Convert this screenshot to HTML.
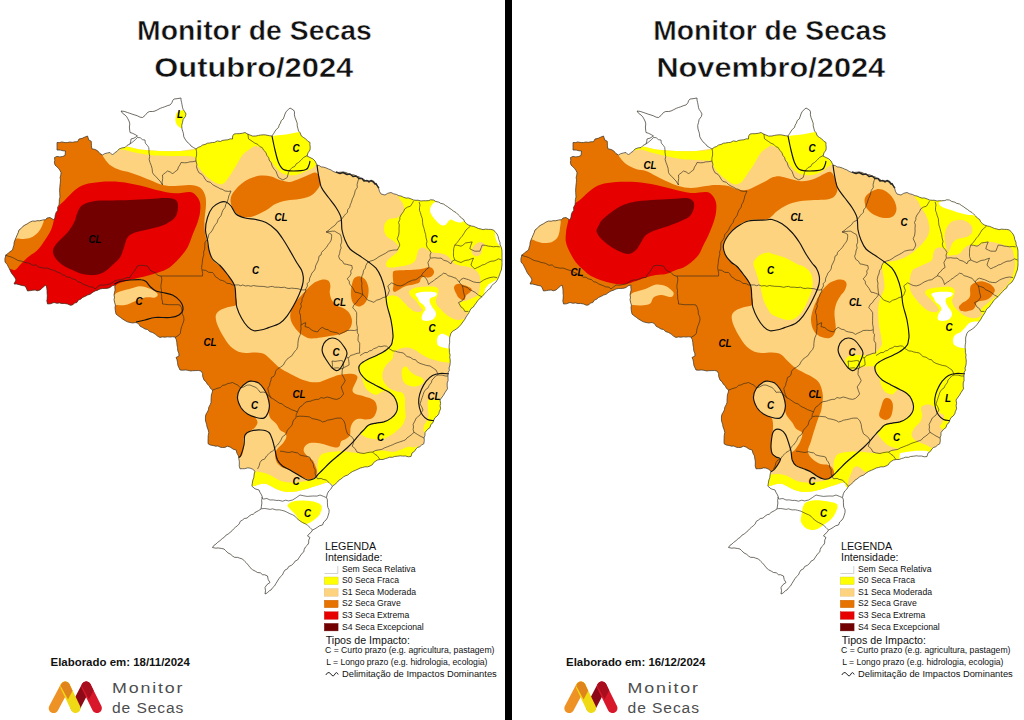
<!DOCTYPE html>
<html><head><meta charset="utf-8"><title>Monitor de Secas</title>
<style>
html,body{margin:0;padding:0;background:#fff;}
body{width:1024px;height:720px;overflow:hidden;font-family:"Liberation Sans",sans-serif;}
svg{display:block;}
text{font-family:"Liberation Sans",sans-serif;}
.ti{font-weight:bold;font-size:27.6px;fill:#111;text-anchor:middle;stroke:#fff;stroke-width:0.45px;}
.lb{font-weight:bold;font-style:italic;font-size:11.3px;fill:#000;text-anchor:middle;}
.lg{font-size:10.6px;fill:#111;}
.ls{font-size:8.65px;fill:#111;}
.el{font-weight:bold;font-size:11.2px;fill:#111;}
.lo{font-size:15.5px;fill:#4d4d4d;}
</style></head><body>
<svg width="1024" height="720" viewBox="0 0 1024 720">
<defs>
<path id="bzo" d="M5.0,262.0 L4.9,258.5 L6.0,255.0 L8.5,253.0 L9.9,251.8 L12.5,250.0 L13.2,247.2 L13.9,245.2 L14.1,242.6 L15.0,240.0 L16.1,237.4 L17.3,234.7 L18.3,232.3 L19.0,230.0 L21.1,228.5 L23.0,226.3 L25.0,225.0 L27.4,223.8 L29.8,222.2 L32.5,221.0 L35.2,221.2 L37.1,220.7 L39.5,220.8 L42.5,220.0 L45.6,219.7 L47.0,218.0 L50.0,217.5 L54.0,220.0 L54.9,217.6 L55.3,214.7 L56.1,212.4 L57.8,210.3 L57.6,207.3 L59.0,205.0 L59.3,201.9 L59.3,199.7 L60.0,197.0 L59.8,194.7 L59.7,192.3 L59.6,190.3 L59.8,187.4 L60.0,185.0 L60.3,182.8 L60.5,179.7 L60.1,177.6 L60.8,175.0 L61.0,172.5 L60.0,170.5 L58.5,168.3 L56.8,166.7 L55.0,165.0 L54.3,162.0 L54.8,160.6 L54.5,157.5 L57.0,156.4 L59.9,156.9 L62.5,156.5 L65.0,155.5 L65.5,151.0 L63.1,150.8 L60.3,150.1 L57.0,150.0 L57.0,147.7 L57.0,145.1 L57.0,142.5 L59.7,142.6 L61.6,141.9 L65.2,142.6 L67.8,142.5 L69.5,142.0 L72.5,142.3 L75.2,141.7 L77.5,141.8 L79.0,139.0 L82.2,138.3 L84.3,137.3 L87.5,136.0 L88.8,140.0 L91.2,141.2 L91.4,143.2 L91.4,145.8 L91.9,148.8 L95.0,149.4 L97.6,150.8 L100.0,153.6 L102.5,155.0 L104.6,153.7 L107.7,152.9 L110.0,152.5 L112.5,155.0 L114.6,152.8 L117.1,151.3 L119.0,149.0 L122.0,147.9 L125.0,147.5 L127.1,145.4 L130.0,144.0 L130.8,141.1 L131.0,139.0 L134.1,138.1 L137.5,136.0 L135.4,134.7 L132.3,133.2 L130.0,132.5 L129.7,130.2 L129.4,127.0 L129.8,123.9 L129.0,121.0 L127.8,118.7 L126.8,116.9 L125.0,115.0 L122.7,113.4 L121.0,111.0 L124.2,111.4 L127.5,112.5 L129.5,113.2 L132.9,114.4 L135.0,115.0 L137.1,115.7 L140.2,117.2 L142.5,117.5 L145.0,115.5 L147.5,112.5 L149.7,111.5 L152.7,111.5 L155.0,111.0 L157.1,110.0 L160.3,108.3 L162.5,107.5 L164.4,106.9 L167.9,105.5 L170.0,105.0 L171.9,102.8 L172.6,100.7 L174.0,99.0 L177.0,98.7 L181.0,98.0 L181.0,100.1 L181.6,102.5 L182.1,105.1 L182.5,107.5 L183.2,109.5 L184.7,111.6 L186.0,114.0 L185.3,116.6 L183.1,119.5 L182.5,122.5 L181.7,125.4 L182.0,129.0 L182.9,131.8 L183.4,133.4 L183.8,136.8 L185.0,139.0 L187.0,141.9 L189.5,143.9 L191.0,146.0 L193.6,147.6 L196.0,149.0 L198.3,147.3 L200.6,146.5 L202.5,145.0 L205.0,144.5 L207.5,143.2 L209.5,143.0 L212.5,142.5 L214.5,142.4 L217.3,140.9 L220.6,141.5 L222.1,140.5 L225.0,140.0 L227.9,139.8 L230.2,138.8 L232.5,139.0 L232.7,135.9 L234.0,134.0 L236.4,133.7 L239.1,133.7 L242.7,133.2 L245.0,132.5 L247.8,134.2 L250.0,135.0 L252.6,136.1 L256.0,136.0 L258.4,135.4 L260.9,135.0 L263.9,134.8 L266.0,135.0 L269.3,135.7 L272.0,136.0 L273.6,133.6 L275.0,131.3 L276.3,129.4 L278.5,127.5 L279.2,125.0 L280.4,123.2 L281.3,120.5 L283.3,118.9 L284.3,116.2 L285.0,114.0 L286.2,111.5 L288.2,109.6 L290.0,108.0 L293.5,110.0 L294.5,111.9 L294.4,114.8 L295.1,117.8 L296.0,120.0 L297.2,123.3 L297.2,125.7 L297.8,128.1 L298.5,131.0 L300.0,132.6 L301.3,135.9 L303.5,137.5 L305.5,138.7 L307.9,141.3 L310.0,142.5 L309.9,144.6 L310.2,147.2 L310.0,150.0 L308.0,152.8 L307.0,156.0 L309.1,157.1 L312.9,158.9 L315.0,161.0 L317.0,165.0 L319.5,165.7 L321.1,166.9 L323.5,167.1 L326.5,168.1 L328.5,169.0 L330.9,169.9 L333.1,171.4 L336.0,172.5 L338.6,172.4 L341.2,172.1 L343.5,172.0 L346.5,172.6 L348.3,173.7 L351.3,174.6 L353.9,174.8 L356.0,176.0 L359.1,176.8 L360.6,178.0 L364.0,179.4 L366.0,181.0 L368.4,180.6 L370.8,181.2 L373.5,181.0 L374.7,183.4 L376.4,184.8 L378.5,187.5 L379.4,191.2 L381.0,194.0 L385.0,195.0 L387.7,193.3 L391.0,192.5 L393.4,193.7 L396.6,194.5 L398.9,195.7 L401.0,196.0 L403.4,197.2 L406.1,198.1 L408.2,197.9 L411.3,199.0 L413.5,200.0 L416.0,200.3 L418.0,200.2 L421.0,201.0 L423.8,200.7 L425.6,200.8 L428.8,200.6 L430.6,199.8 L433.5,200.0 L435.6,201.4 L438.9,202.2 L440.5,203.3 L443.5,204.0 L445.4,205.4 L447.7,206.8 L450.0,208.6 L451.4,209.4 L453.6,211.2 L456.0,212.5 L458.3,214.8 L459.5,215.9 L461.5,218.2 L463.7,219.5 L464.6,221.8 L466.5,223.7 L468.5,225.0 L471.4,226.0 L473.7,226.4 L475.8,227.3 L478.5,228.5 L481.0,229.0 L483.0,229.7 L485.6,229.1 L488.4,229.4 L490.8,229.4 L493.5,230.0 L495.7,232.5 L497.0,234.0 L498.2,236.6 L498.8,239.6 L500.0,242.5 L500.1,244.8 L501.2,247.2 L501.9,250.0 L502.0,252.5 L502.0,255.0 L502.0,257.5 L502.0,260.0 L502.0,262.5 L502.0,265.0 L501.6,267.9 L501.3,270.0 L500.4,272.2 L499.7,274.3 L498.5,277.4 L497.5,279.5 L495.9,282.1 L493.5,284.0 L491.4,285.9 L490.5,288.2 L488.5,289.5 L486.6,291.6 L484.3,294.0 L482.2,296.4 L480.2,298.1 L477.6,300.8 L476.0,303.2 L474.5,305.1 L473.4,307.0 L471.0,308.6 L469.8,310.8 L468.9,312.7 L467.4,315.0 L466.0,317.0 L464.9,319.2 L462.9,321.9 L461.0,324.5 L459.1,326.7 L456.9,328.6 L454.8,330.0 L452.6,331.2 L451.0,333.2 L449.8,337.0 L449.6,339.2 L449.7,342.4 L449.3,344.3 L449.1,347.2 L449.4,349.9 L449.4,352.5 L450.1,355.1 L449.7,357.2 L450.2,359.7 L450.2,362.5 L450.0,365.0 L449.0,368.0 L449.4,370.3 L448.2,372.3 L448.0,375.0 L448.0,378.0 L448.1,380.5 L447.2,382.9 L447.2,386.1 L447.5,388.8 L445.0,392.5 L443.5,395.2 L441.4,398.0 L440.0,400.0 L440.6,403.3 L440.1,405.7 L440.6,408.8 L439.3,411.6 L438.8,413.8 L437.1,416.1 L435.0,417.6 L433.8,420.0 L432.8,422.9 L430.9,424.4 L430.0,427.5 L427.4,429.5 L425.0,432.5 L425.0,435.3 L424.1,437.8 L424.3,440.4 L423.8,443.8 L421.5,445.1 L419.8,446.7 L417.5,447.5 L415.9,449.0 L414.3,451.5 L412.0,453.0 L411.0,456.5 L408.4,456.8 L405.6,456.0 L402.6,456.1 L400.6,455.8 L397.5,456.2 L394.4,456.5 L392.7,457.3 L389.5,457.2 L387.5,458.0 L385.4,458.6 L383.0,459.5 L380.3,459.5 L377.5,460.0 L375.3,461.4 L373.5,462.7 L372.4,464.7 L370.0,466.0 L367.4,466.9 L364.9,466.8 L362.5,467.5 L360.2,468.0 L357.9,469.2 L355.4,470.3 L352.5,471.5 L349.9,473.2 L347.8,475.0 L345.0,476.0 L343.4,477.0 L340.9,479.1 L338.9,480.2 L337.5,482.0 L334.7,484.6 L332.5,486.0 L330.9,489.0 L328.8,491.0 L327.3,493.8 L326.5,497.5 L327.4,499.8 L327.4,502.8 L327.5,505.0 L327.8,507.3 L329.1,509.8 L329.0,512.5 L328.2,515.3 L327.4,517.8 L326.0,520.0 L323.7,522.0 L322.5,525.0 L319.5,525.8 L317.4,527.3 L314.9,528.8 L312.5,530.0 L311.1,532.3 L308.9,534.1 L307.5,536.0 L310.0,537.5 L308.7,540.1 L308.7,543.0 L307.5,545.0 L305.5,546.9 L304.2,549.4 L303.8,551.9 L302.2,553.2 L300.0,556.2 L298.8,558.1 L297.5,560.0 L295.1,561.1 L293.7,563.3 L291.6,565.2 L288.6,566.6 L287.5,568.8 L285.0,570.0 L283.6,572.2 L282.5,574.8 L280.2,577.0 L278.9,578.7 L277.5,581.0 L275.8,583.7 L274.6,585.9 L272.7,587.6 L271.0,590.0 L269.4,590.7 L267.3,592.9 L265.0,594.0 L265.5,590.7 L265.0,587.5 L266.9,584.7 L270.0,582.5 L268.2,579.6 L267.5,576.0 L264.4,574.7 L262.7,574.8 L260.3,572.8 L257.5,572.5 L255.5,571.3 L252.5,569.7 L250.0,567.5 L248.4,565.2 L246.2,562.7 L244.8,561.4 L242.5,559.0 L239.5,558.1 L237.7,557.4 L234.5,557.3 L232.5,556.0 L230.8,554.4 L228.0,552.9 L225.7,550.7 L224.0,549.0 L221.7,548.5 L218.0,547.9 L215.9,548.2 L212.5,547.5 L213.8,545.5 L216.0,544.0 L217.5,542.5 L220.1,540.6 L222.2,538.6 L224.4,537.2 L225.8,535.3 L228.2,534.0 L230.0,532.5 L232.1,530.7 L233.7,528.8 L235.6,527.1 L237.7,525.5 L239.2,523.9 L240.3,521.3 L242.5,520.0 L244.3,518.5 L247.0,518.1 L249.0,516.2 L251.3,514.6 L253.2,514.3 L255.0,512.5 L258.4,510.7 L261.0,509.0 L261.4,506.3 L261.9,503.0 L261.6,500.3 L262.5,497.5 L261.5,494.9 L259.9,492.2 L259.0,490.0 L255.0,488.8 L251.9,486.2 L252.3,483.3 L252.9,480.0 L253.8,477.5 L254.2,474.0 L255.0,471.2 L252.6,469.2 L250.0,468.1 L247.6,467.9 L244.6,468.7 L242.7,468.7 L240.0,468.8 L239.2,465.9 L239.3,464.0 L239.3,461.1 L238.8,458.8 L238.5,456.0 L236.9,453.1 L236.2,450.0 L233.4,449.3 L230.3,447.2 L227.5,446.2 L224.9,447.4 L222.5,447.5 L220.5,447.3 L217.9,446.0 L215.6,446.2 L213.1,445.5 L210.2,445.0 L208.1,443.8 L208.0,441.2 L208.1,438.4 L208.2,435.4 L208.8,432.5 L208.2,430.0 L207.0,426.8 L206.6,424.3 L205.6,421.2 L205.4,418.8 L205.5,416.1 L206.2,413.8 L207.4,412.0 L208.5,409.5 L208.7,407.5 L210.3,404.4 L211.0,402.5 L211.0,400.4 L211.2,397.3 L211.4,394.8 L212.4,391.9 L212.5,390.0 L210.5,388.4 L209.2,385.8 L207.4,384.3 L206.1,381.9 L204.0,380.0 L202.7,376.5 L202.6,373.5 L201.0,371.0 L198.6,370.5 L196.0,370.6 L192.6,370.7 L190.9,371.0 L187.9,370.3 L185.5,370.0 L182.2,370.2 L180.0,370.0 L179.1,368.0 L177.9,365.4 L177.5,362.3 L177.0,359.7 L176.0,357.5 L179.0,356.0 L178.8,353.1 L177.8,350.9 L177.5,347.5 L177.0,345.2 L176.8,342.1 L176.2,339.4 L175.0,337.0 L172.5,336.8 L169.6,337.1 L167.8,336.8 L164.9,337.2 L162.2,336.9 L160.0,337.5 L157.5,336.1 L155.2,334.1 L152.5,332.5 L149.6,331.6 L147.7,329.6 L145.0,329.0 L142.7,327.6 L140.2,326.3 L138.4,323.6 L136.0,322.5 L132.7,323.0 L130.0,322.5 L127.3,321.8 L125.3,320.7 L122.5,319.0 L120.3,317.3 L117.8,315.6 L116.0,314.0 L115.3,310.4 L115.0,307.5 L115.4,305.2 L114.6,302.3 L114.0,299.6 L114.5,297.4 L114.0,295.0 L114.4,292.9 L115.1,290.1 L114.8,287.0 L115.0,285.0 L112.1,285.8 L110.0,287.5 L107.9,288.2 L104.7,288.5 L102.8,288.5 L100.0,289.0 L97.0,290.4 L95.0,291.0 L92.1,292.7 L90.5,294.1 L87.5,295.1 L85.3,296.3 L82.5,297.5 L80.5,299.3 L78.4,300.1 L76.8,302.6 L74.5,303.0 L72.5,305.0 L70.2,305.2 L67.8,304.1 L64.4,303.4 L62.0,303.6 L59.5,302.9 L57.0,303.3 L54.0,302.5 L50.4,303.8 L47.5,304.0 L46.8,300.7 L47.1,299.1 L47.3,295.7 L47.0,292.8 L47.0,290.7 L46.8,288.1 L46.0,285.0 L44.4,286.1 L41.7,288.5 L40.0,290.0 L37.2,290.8 L35.2,290.0 L32.7,290.2 L30.5,290.6 L27.5,291.0 L26.3,288.0 L25.0,286.0 L22.2,285.5 L20.0,284.9 L16.7,284.1 L14.0,284.0 L16.0,280.0 L15.0,277.8 L13.0,275.1 L11.2,272.7 L10.0,270.0 L8.7,267.5 L7.2,264.5Z"/>
<clipPath id="bz"><use href="#bzo"/></clipPath>
<g id="logo">
<line x1="75.4" y1="707.2" x2="86.2" y2="686.4" stroke="#8c0a18" stroke-width="9.8" stroke-linecap="round"/>
<line x1="53.6" y1="708.2" x2="65.2" y2="686.4" stroke="#ee9226" stroke-width="9.8" stroke-linecap="round"/>
<line x1="65.2" y1="686.4" x2="75.6" y2="708.2" stroke="#f0da16" stroke-width="9.8" stroke-linecap="round"/>
<path d="M65.2,681.5 a4.9,4.9 0 0 1 4.4,2.8 l3.0,6.4 l-4.6,8.8 l-7.2,-13.3 a4.9,4.9 0 0 1 4.4,-4.7z" fill="#e0851c"/>
<line x1="86.2" y1="686.4" x2="97" y2="708.2" stroke="#d8182a" stroke-width="9.8" stroke-linecap="round"/>
<path d="M86.2,681.5 a4.9,4.9 0 0 1 4.4,2.8 l3.0,6.2 l-4.6,8.8 l-7.2,-13.1 a4.9,4.9 0 0 1 4.4,-4.7z" fill="#a80e1e"/>
<text x="112" y="693.1" class="lo" textLength="72.3" lengthAdjust="spacingAndGlyphs" style="letter-spacing:1.6px">Monitor</text>
<text x="112" y="713.2" class="lo" textLength="72.3" lengthAdjust="spacingAndGlyphs" style="letter-spacing:0.9px">de Secas</text>
</g>
<g id="legend">
<text x="325" y="549.5" class="lg" textLength="51.2" lengthAdjust="spacingAndGlyphs">LEGENDA</text>
<text x="325" y="560.6" class="lg" textLength="57.5" lengthAdjust="spacingAndGlyphs">Intensidade:</text>
<path d="M324.5,573.5 H337.8 V566" fill="none" stroke="#bdbdbd" stroke-width="0.7"/>
<rect x="324.3" y="577" width="13.8" height="7.5" fill="#ffff00" stroke="#c9c93a" stroke-width="0.4"/>
<rect x="324.3" y="588.7" width="13.8" height="7.5" fill="#fdd37f" stroke="#d9b777" stroke-width="0.4"/>
<rect x="324.3" y="600.2" width="13.8" height="7.5" fill="#e67300" stroke="#c56708" stroke-width="0.4"/>
<rect x="324.3" y="611.8" width="13.8" height="7.5" fill="#e60000" stroke="#c41010" stroke-width="0.4"/>
<rect x="324.3" y="623.4" width="13.8" height="7.5" fill="#730000" stroke="#6a0a0a" stroke-width="0.4"/>
<text x="342" y="572" class="ls" textLength="73.5" lengthAdjust="spacingAndGlyphs">Sem Seca Relativa</text>
<text x="342" y="583.4" class="ls" textLength="57" lengthAdjust="spacingAndGlyphs">S0 Seca Fraca</text>
<text x="342" y="595" class="ls" textLength="74" lengthAdjust="spacingAndGlyphs">S1 Seca Moderada</text>
<text x="342" y="606.4" class="ls" textLength="58.7" lengthAdjust="spacingAndGlyphs">S2 Seca Grave</text>
<text x="342" y="618.1" class="ls" textLength="67.3" lengthAdjust="spacingAndGlyphs">S3 Seca Extrema</text>
<text x="342" y="630" class="ls" textLength="81.8" lengthAdjust="spacingAndGlyphs">S4 Seca Excepcional</text>
<text x="325.7" y="643.8" class="lg" textLength="84.3" lengthAdjust="spacingAndGlyphs">Tipos de Impacto:</text>
<text x="325" y="653.3" class="ls" style="font-size:8.4px" textLength="169.5" lengthAdjust="spacingAndGlyphs">C = Curto prazo (e.g. agricultura, pastagem)</text>
<text x="326.2" y="664.5" class="ls" style="font-size:8.4px" textLength="161.3" lengthAdjust="spacingAndGlyphs">L = Longo prazo (e.g. hidrologia, ecologia)</text>
<path d="M325.8,675 Q327.5,672 329,672.5 Q331,673.5 332,675.5 Q333.5,677 335,674 Q336.5,671 338.2,674.5" fill="none" stroke="#111" stroke-width="0.9"/>
<text x="342" y="677" class="ls" style="font-size:9.2px" textLength="154.8" lengthAdjust="spacingAndGlyphs">Delimitação de Impactos Dominantes</text>
</g>
</defs>
<rect width="1024" height="720" fill="#fff"/>
<g transform="translate(0,0)">
<g clip-path="url(#bz)">
<rect x="0" y="90" width="512" height="520" fill="#fdd37f"/>
<path d="M100.0,90.0 L200.0,90.0 L200.0,146.0 L196.0,148.5 L180.0,151.0 L160.0,151.0 L140.0,149.5 L125.0,146.0 L116.0,152.0Z" fill="#ffffff"/>
<path d="M245.0,486.5 C253.8,484.2 250.2,486.6 252.5,486.2 C254.8,485.9 256.7,484.8 258.8,484.4 C260.8,484.0 262.9,483.4 265.0,483.8 C267.1,484.1 269.0,485.2 271.2,486.2 C273.5,487.3 276.0,489.1 278.8,490.0 C281.5,490.9 284.4,491.7 287.5,491.9 C290.6,492.1 294.2,491.8 297.5,491.2 C300.8,490.7 304.2,489.7 307.5,488.8 C310.8,487.8 314.1,486.6 317.5,485.6 C320.9,484.6 323.4,483.4 328.0,482.5 C332.6,481.6 342.2,458.8 345.0,480.0 C347.8,501.2 369.2,588.3 345.0,610.0 C320.8,631.7 224.2,628.3 200.0,610.0 C175.8,591.7 192.5,520.6 200.0,500.0 C207.5,479.4 236.2,488.8 245.0,486.5Z" fill="#ffffff"/>
<path d="M116.0,151.0 C116.4,150.5 121.0,146.8 125.0,146.5 C129.0,146.2 134.2,148.8 140.0,149.5 C145.8,150.2 153.3,150.8 160.0,151.0 C166.7,151.2 174.0,151.4 180.0,151.0 C186.0,150.6 192.8,151.2 196.0,148.5 C199.2,145.8 193.3,139.8 199.0,135.0 C204.7,130.2 208.2,122.5 230.0,120.0 C251.8,117.5 313.3,113.3 330.0,120.0 C346.7,126.7 332.0,152.8 330.0,160.0 C328.0,167.2 320.8,161.8 318.0,163.0 C315.2,164.2 315.5,166.2 313.5,167.5 C311.5,168.8 308.9,169.8 306.0,171.0 C303.1,172.2 299.8,174.5 296.0,175.0 C292.2,175.5 286.8,175.2 283.5,174.0 C280.2,172.8 278.5,170.2 276.0,167.5 C273.5,164.8 270.6,160.4 268.5,157.5 C266.4,154.6 265.6,151.9 263.5,150.0 C261.4,148.1 258.2,146.2 256.0,146.0 C253.8,145.8 252.2,147.5 250.0,149.0 C247.8,150.5 245.0,151.9 242.5,155.0 C240.0,158.1 237.5,163.5 235.0,167.5 C232.5,171.5 229.6,176.2 227.5,179.0 C225.4,181.8 224.6,183.4 222.5,184.0 C220.4,184.6 217.9,184.0 215.0,182.5 C212.1,181.0 207.9,177.9 205.0,175.0 C202.1,172.1 199.2,167.9 197.5,165.0 C195.8,162.1 197.1,159.0 195.0,157.5 C192.9,156.0 189.2,156.2 185.0,156.0 C180.8,155.8 175.8,156.2 170.0,156.0 C164.2,155.8 155.8,155.6 150.0,155.0 C144.2,154.4 139.6,153.4 135.0,152.5 C130.4,151.6 125.7,149.8 122.5,149.5 C119.3,149.2 115.6,151.5 116.0,151.0Z" fill="#ffff00"/>
<path d="M178.0,112.0 C179.3,111.2 182.0,109.7 184.0,110.0 C186.0,110.3 189.8,112.3 190.0,114.0 C190.2,115.7 186.2,117.7 185.0,120.0 C183.8,122.3 183.7,127.0 182.5,128.0 C181.3,129.0 179.2,127.2 178.0,126.0 C176.8,124.8 175.8,122.8 175.5,121.0 C175.2,119.2 175.6,116.5 176.0,115.0 C176.4,113.5 176.7,112.8 178.0,112.0Z" fill="#ffff00"/>
<path d="M400.4,194.0 C395.9,196.3 402.4,201.3 403.0,203.8 C403.6,206.2 404.3,206.9 404.0,208.8 C403.7,210.6 402.3,213.5 401.0,215.0 C399.7,216.5 398.1,217.3 396.0,218.0 C393.9,218.7 390.4,218.4 388.5,219.4 C386.6,220.4 385.5,222.0 384.8,223.8 C384.0,225.5 383.7,227.9 384.0,230.0 C384.3,232.1 385.2,234.6 386.6,236.2 C388.0,237.9 390.6,238.8 392.2,240.0 C393.9,241.2 395.5,242.5 396.6,243.8 C397.7,245.0 398.8,246.2 399.0,247.5 C399.2,248.8 399.0,249.8 397.9,251.2 C396.8,252.7 393.9,254.8 392.2,256.2 C390.6,257.7 388.9,258.8 387.9,260.0 C386.9,261.2 386.1,262.6 386.0,263.8 C385.9,264.9 386.2,266.3 387.2,266.9 C388.3,267.5 390.0,267.6 392.2,267.5 C394.5,267.4 398.1,266.8 401.0,266.2 C403.9,265.7 407.5,265.2 409.8,264.4 C412.0,263.6 413.6,262.6 414.8,261.2 C415.9,259.9 416.0,258.1 416.6,256.2 C417.2,254.4 417.6,251.5 418.5,250.0 C419.4,248.5 421.0,247.7 422.2,247.5 C423.5,247.3 424.5,248.0 426.0,248.8 C427.5,249.5 428.9,251.2 431.0,251.9 C433.1,252.6 436.0,252.6 438.5,253.1 C441.0,253.6 443.9,253.9 446.0,255.0 C448.1,256.1 449.5,257.9 451.0,259.4 C452.5,260.9 453.1,262.7 454.8,263.8 C456.4,264.8 458.7,265.2 461.0,265.8 C463.3,266.3 466.2,266.4 468.5,267.0 C470.8,267.6 473.0,268.2 474.8,269.5 C476.5,270.8 478.2,272.6 479.1,274.5 C480.0,276.4 480.3,278.7 480.4,280.8 C480.5,282.8 480.0,285.1 479.8,287.0 C479.5,288.9 479.5,290.5 479.1,292.0 C478.7,293.5 478.4,294.7 477.2,295.8 C476.1,296.8 474.1,297.4 472.2,298.2 C470.4,299.1 467.9,300.1 466.0,300.8 C464.1,301.4 462.0,301.4 461.0,302.0 C460.0,302.6 459.5,303.2 459.8,304.5 C460.0,305.8 461.2,308.4 462.2,309.5 C463.3,310.6 463.9,311.0 466.0,311.4 C468.1,311.8 466.8,318.9 475.0,312.0 C483.2,305.1 508.3,286.2 515.0,270.0 C521.7,253.8 522.5,227.5 515.0,215.0 C507.5,202.5 484.2,199.2 470.0,195.0 C455.8,190.8 441.6,190.2 430.0,190.0 C418.4,189.8 404.9,191.7 400.4,194.0Z" fill="#ffff00"/>
<path d="M385.4,298.2 C385.9,296.8 388.2,296.4 389.8,296.0 C391.3,295.6 393.1,295.4 394.8,295.8 C396.4,296.1 398.1,297.0 399.8,298.2 C401.4,299.5 403.1,301.6 404.8,303.2 C406.4,304.9 408.1,306.9 409.8,308.2 C411.4,309.6 413.1,310.8 414.8,311.4 C416.4,312.0 418.4,312.2 419.8,312.0 C421.1,311.8 422.6,310.7 422.9,310.1 C423.2,309.5 422.3,309.2 421.6,308.2 C420.9,307.3 419.4,305.8 418.5,304.5 C417.6,303.2 417.2,302.1 416.0,300.8 C414.8,299.4 412.1,297.9 411.0,296.4 C409.9,294.9 408.9,293.2 409.1,292.0 C409.3,290.8 410.5,289.7 412.2,288.9 C414.0,288.1 416.8,287.4 419.8,287.0 C422.7,286.6 427.0,286.4 429.8,286.4 C432.5,286.4 434.5,286.4 436.0,287.0 C437.5,287.6 438.2,288.9 438.5,290.1 C438.8,291.4 438.3,292.9 437.9,294.5 C437.5,296.1 436.2,297.8 436.0,299.5 C435.8,301.2 435.8,302.8 436.6,304.5 C437.4,306.2 439.4,307.8 441.0,309.5 C442.6,311.2 444.1,313.0 446.0,314.5 C447.9,316.0 450.2,317.3 452.2,318.2 C454.3,319.2 455.5,319.8 458.5,320.1 C461.5,320.4 468.9,315.9 470.0,320.0 C471.1,324.1 466.7,337.8 465.0,345.0 C463.3,352.2 462.9,360.1 460.0,363.0 C457.1,365.9 451.0,362.8 447.5,362.5 C444.0,362.2 441.7,361.9 438.8,361.2 C435.8,360.6 432.7,359.8 430.0,358.8 C427.3,357.7 425.0,356.5 422.5,355.0 C420.0,353.5 417.5,351.2 415.0,350.0 C412.5,348.8 410.0,347.7 407.5,347.5 C405.0,347.3 402.3,347.9 400.0,348.8 C397.7,349.6 395.0,350.8 393.8,352.5 C392.5,354.2 393.8,356.7 392.5,358.8 C391.2,360.8 387.8,362.9 386.2,365.0 C384.7,367.1 383.6,369.2 383.0,371.2 C382.4,373.3 382.2,375.4 382.5,377.5 C382.8,379.6 383.8,381.9 385.0,383.8 C386.2,385.6 388.1,387.5 390.0,388.8 C391.9,390.0 394.2,390.5 396.2,391.2 C398.3,392.0 401.0,391.8 402.5,393.0 C404.0,394.2 404.6,396.5 405.0,398.8 C405.4,401.0 404.9,403.5 405.0,406.2 C405.1,409.0 405.5,413.1 405.6,415.0 C405.7,416.9 406.1,415.8 405.6,417.5 C405.1,419.2 404.1,422.7 402.5,425.0 C400.9,427.3 398.5,429.4 396.2,431.2 C394.0,433.1 391.2,434.9 388.8,436.2 C386.2,437.6 384.0,439.0 381.2,439.4 C378.5,439.8 375.0,439.1 372.5,438.8 C370.0,438.4 367.9,438.1 366.2,437.5 C364.6,436.9 363.5,435.6 362.5,435.0 C361.5,434.4 359.6,435.0 360.0,433.8 C360.4,432.5 363.3,429.1 365.0,427.5 C366.7,425.9 367.5,425.2 370.0,424.4 C372.5,423.6 376.9,423.3 380.0,422.5 C383.1,421.7 386.2,420.6 388.8,419.4 C391.2,418.1 393.6,416.7 395.0,415.0 C396.4,413.3 396.6,410.5 397.0,409.0 C397.4,407.5 397.7,407.9 397.5,406.2 C397.3,404.6 396.6,401.5 395.6,399.4 C394.6,397.3 393.2,395.1 391.2,393.8 C389.3,392.4 386.0,390.9 383.8,391.0 C381.5,391.1 379.4,393.9 377.5,394.4 C375.6,394.9 374.4,394.7 372.5,393.8 C370.6,392.8 367.8,390.8 366.2,388.8 C364.7,386.7 363.9,383.8 363.0,381.2 C362.1,378.8 361.3,375.9 360.6,373.8 C359.9,371.6 358.8,369.8 358.8,368.1 C358.8,366.4 359.1,365.2 360.6,363.8 C362.1,362.3 364.7,360.9 367.5,359.4 C370.3,357.9 374.4,356.6 377.5,355.0 C380.6,353.4 384.0,351.7 386.2,350.0 C388.5,348.3 390.1,347.5 391.2,345.0 C392.4,342.5 393.0,339.2 393.0,335.0 C393.0,330.8 392.0,325.0 391.0,320.0 C390.0,315.0 387.9,308.6 387.0,305.0 C386.1,301.4 384.9,299.8 385.4,298.2Z" fill="#ffff00"/>
<path d="M401.9,370.0 C402.2,368.4 402.9,367.4 403.8,366.9 C404.6,366.4 405.9,366.2 406.9,366.9 C407.9,367.6 408.6,369.9 410.0,371.2 C411.4,372.6 413.1,374.0 415.0,375.0 C416.9,376.0 419.8,376.6 421.2,377.5 C422.7,378.4 423.8,379.5 423.8,380.6 C423.8,381.8 422.7,383.4 421.2,384.4 C419.8,385.4 417.1,386.3 415.0,386.5 C412.9,386.7 410.6,386.4 408.8,385.6 C406.9,384.8 404.9,383.5 403.8,381.9 C402.6,380.3 402.2,378.2 401.9,376.2 C401.6,374.3 401.6,371.6 401.9,370.0Z" fill="#ffff00"/>
<path d="M427.5,402.5 L428.8,399.0 L435.0,398.8 L441.0,399.5 L455.0,398.0 L445.0,425.0 L432.0,434.0 L424.0,433.0 L423.5,428.0 L424.5,424.5 L427.0,421.0 L428.8,415.0 L428.0,410.0Z" fill="#ffff00"/>
<path d="M252.5,486.2 C254.6,487.0 256.7,484.8 258.8,484.4 C260.8,484.0 262.9,483.4 265.0,483.8 C267.1,484.1 269.0,485.2 271.2,486.2 C273.5,487.3 276.0,489.1 278.8,490.0 C281.5,490.9 284.4,491.7 287.5,491.9 C290.6,492.1 294.2,491.8 297.5,491.2 C300.8,490.7 304.2,489.7 307.5,488.8 C310.8,487.8 314.1,486.6 317.5,485.6 C320.9,484.6 324.2,482.4 328.0,482.5 C331.8,482.6 331.3,487.2 340.0,486.0 C348.7,484.8 366.7,479.3 380.0,475.0 C393.3,470.7 413.7,464.7 420.0,460.0 C426.3,455.3 419.0,449.1 418.0,447.0 C417.0,444.9 415.5,447.5 413.8,447.5 C412.0,447.5 409.8,446.5 407.5,446.9 C405.2,447.3 402.5,449.2 400.0,450.0 C397.5,450.8 395.4,451.8 392.5,451.9 C389.6,452.0 385.8,450.7 382.5,450.6 C379.2,450.5 375.8,450.8 372.5,451.2 C369.2,451.7 365.8,452.9 362.5,453.1 C359.2,453.3 355.8,452.8 352.5,452.5 C349.2,452.2 346.0,451.4 342.5,451.2 C339.0,451.1 334.6,451.5 331.2,451.9 C327.9,452.3 324.6,452.6 322.5,453.8 C320.4,454.9 319.6,456.7 318.8,458.8 C317.9,460.8 317.6,463.3 317.5,466.2 C317.4,469.2 318.4,474.2 318.0,476.2 C317.6,478.3 317.2,477.9 315.0,478.8 C312.8,479.6 308.3,480.6 305.0,481.2 C301.7,481.9 298.3,482.4 295.0,482.5 C291.7,482.6 287.9,482.4 285.0,481.9 C282.1,481.4 280.0,480.5 277.5,479.4 C275.0,478.2 272.5,476.1 270.0,475.0 C267.5,473.9 265.0,473.1 262.5,472.5 C260.0,471.9 257.4,471.7 255.0,471.2 C252.6,470.8 249.5,468.5 248.0,470.0 C246.5,471.5 245.2,477.3 246.0,480.0 C246.8,482.7 250.4,485.5 252.5,486.2Z" fill="#ffff00"/>
<path d="M287.5,505.0 C288.3,503.7 291.2,501.7 295.0,501.0 C298.8,500.3 305.7,500.3 310.0,501.0 C314.3,501.7 319.3,502.8 321.0,505.0 C322.7,507.2 321.4,511.3 320.0,514.0 C318.6,516.7 315.0,519.3 312.5,521.0 C310.0,522.7 307.2,524.2 305.0,524.0 C302.8,523.8 300.7,521.7 299.0,520.0 C297.3,518.3 296.5,515.8 295.0,514.0 C293.5,512.2 291.2,510.5 290.0,509.0 C288.8,507.5 286.7,506.3 287.5,505.0Z" fill="#ffff00"/>
<path d="M472.2,248.8 C472.8,247.6 473.7,246.0 474.8,245.0 C475.8,244.0 477.2,242.9 478.5,242.5 C479.8,242.1 481.2,242.1 482.2,242.5 C483.3,242.9 484.8,244.0 484.8,245.0 C484.8,246.0 482.9,247.3 482.2,248.8 C481.6,250.2 481.8,252.5 481.0,253.8 C480.2,255.0 478.5,256.0 477.2,256.2 C476.0,256.5 474.4,255.7 473.5,255.0 C472.6,254.3 471.8,252.9 471.6,251.9 C471.4,250.9 471.7,249.9 472.2,248.8Z" fill="#fdd37f"/>
<path d="M431.0,206.2 C431.6,205.0 432.5,203.9 433.5,203.1 C434.5,202.3 435.3,202.3 437.2,201.5 C439.2,200.7 439.5,195.8 445.0,198.0 C450.5,200.2 466.9,211.1 470.0,215.0 C473.1,218.9 465.2,220.0 463.5,221.2 C461.8,222.5 461.2,222.5 459.8,222.5 C458.3,222.5 456.2,221.8 454.8,221.2 C453.3,220.7 452.0,219.4 451.0,219.4 C450.0,219.4 449.3,220.4 448.5,221.2 C447.7,222.1 446.9,223.7 446.0,224.4 C445.1,225.1 444.0,225.7 442.9,225.6 C441.8,225.5 440.4,224.7 439.1,223.8 C437.9,222.8 436.6,221.5 435.4,220.0 C434.1,218.5 432.5,216.6 431.6,215.0 C430.7,213.4 430.1,212.1 430.0,210.6 C429.9,209.1 430.4,207.5 431.0,206.2Z" fill="#ffffff"/>
<path d="M415.4,294.5 C415.5,293.6 416.7,293.1 418.5,292.6 C420.3,292.1 423.3,291.8 426.0,291.8 C428.7,291.7 432.9,291.9 434.8,292.2 C436.6,292.6 437.0,293.2 437.0,293.9 C437.0,294.6 435.9,295.7 434.8,296.4 C433.6,297.1 431.2,297.3 430.4,298.2 C429.6,299.2 429.4,300.5 429.8,302.0 C430.1,303.5 431.3,305.4 432.2,307.0 C433.2,308.6 434.8,310.0 435.4,311.4 C436.0,312.8 436.3,313.9 436.0,315.1 C435.7,316.4 434.8,318.0 433.5,318.9 C432.2,319.8 430.2,320.5 428.5,320.8 C426.8,321.0 424.6,320.9 423.5,320.5 C422.4,320.1 421.7,319.5 421.6,318.2 C421.5,317.0 422.3,314.7 422.9,313.2 C423.5,311.8 425.2,310.8 425.4,309.5 C425.6,308.2 425.0,307.0 424.1,305.8 C423.2,304.5 420.8,303.2 419.8,302.0 C418.7,300.8 418.6,299.5 417.9,298.2 C417.2,297.0 415.3,295.4 415.4,294.5Z" fill="#ffffff"/>
<path d="M437.2,338.2 C437.7,336.9 438.7,335.2 439.8,334.5 C440.8,333.8 441.9,333.5 443.5,333.9 C445.1,334.3 447.7,335.5 449.1,337.0 C450.5,338.5 452.0,341.1 452.0,343.0 C452.0,344.9 450.5,347.5 449.1,348.2 C447.7,349.0 445.3,348.0 443.5,347.6 C441.7,347.2 439.6,346.6 438.5,345.8 C437.4,344.9 437.2,343.9 437.0,342.6 C436.8,341.4 436.8,339.6 437.2,338.2Z" fill="#ffffff"/>
<path d="M494.8,231.5 L495.4,237.5 L497.2,242.5 L499.8,246.0 L504.0,246.0 L500.0,230.0Z" fill="#ffffff"/>
<path d="M484.1,293.5 L485.4,288.2 L488.5,284.5 L493.5,281.4 L497.2,279.5 L500.0,284.0 L488.0,298.0Z" fill="#ffffff"/>
<path d="M271.5,137.0 L273.5,135.8 L286.0,134.5 L299.0,132.0 L302.0,100.0 L271.5,100.0Z" fill="#ffffff"/>
<path d="M102.5,152.0 C103.8,156.2 101.2,153.3 102.5,155.5 C103.8,157.7 107.1,162.6 110.0,165.0 C112.9,167.4 116.7,168.8 120.0,170.0 C123.3,171.2 126.7,171.5 130.0,172.5 C133.3,173.5 136.7,174.8 140.0,176.0 C143.3,177.2 146.2,178.5 150.0,180.0 C153.8,181.5 158.3,184.0 162.5,185.0 C166.7,186.0 170.4,186.0 175.0,186.0 C179.6,186.0 185.8,184.8 190.0,185.0 C194.2,185.2 197.5,185.8 200.0,187.5 C202.5,189.2 204.0,192.1 205.0,195.0 C206.0,197.9 206.1,200.8 206.0,205.0 C205.9,209.2 204.7,215.5 204.5,220.0 C204.3,224.5 204.6,228.3 205.0,232.0 C205.4,235.7 206.3,239.0 207.0,242.0 C207.7,245.0 208.1,247.0 209.0,250.0 C209.9,253.0 210.7,257.3 212.5,260.0 C214.3,262.7 217.6,263.7 220.0,266.0 C222.4,268.3 224.7,270.9 227.0,274.0 C229.3,277.1 232.6,281.0 234.0,284.5 C235.4,288.0 235.1,291.7 235.5,295.0 C235.9,298.3 237.8,302.4 236.5,304.5 C235.2,306.6 230.3,306.3 227.5,307.3 C224.7,308.3 221.6,309.0 219.7,310.4 C217.8,311.8 216.2,313.1 215.8,315.5 C215.4,317.9 216.1,321.2 217.3,324.5 C218.5,327.8 220.6,331.8 222.8,335.4 C225.0,339.0 227.5,343.5 230.6,346.4 C233.7,349.3 237.3,351.6 241.6,352.6 C245.9,353.6 252.3,352.2 256.2,352.5 C260.1,352.8 262.3,352.9 265.0,354.4 C267.7,355.9 270.0,359.0 272.5,361.2 C275.0,363.5 277.1,366.0 280.0,368.1 C282.9,370.2 286.7,372.0 290.0,373.8 C293.3,375.5 296.7,377.4 300.0,378.8 C303.3,380.1 306.7,381.4 310.0,381.9 C313.3,382.4 316.7,382.5 320.0,381.9 C323.3,381.3 326.9,379.2 330.0,378.1 C333.1,377.0 335.6,375.7 338.8,375.0 C341.9,374.3 346.0,373.9 348.8,373.8 C351.5,373.6 353.5,373.8 355.0,374.4 C356.5,375.0 357.5,375.9 357.5,377.5 C357.5,379.1 355.8,381.7 355.0,383.8 C354.2,385.8 352.5,388.3 352.5,390.0 C352.5,391.7 353.1,392.7 355.0,393.8 C356.9,394.8 361.0,395.4 363.8,396.2 C366.5,397.1 369.3,397.7 371.2,398.8 C373.2,399.8 374.7,400.8 375.6,402.5 C376.5,404.2 377.0,406.7 376.9,408.8 C376.8,410.8 375.9,413.3 375.0,415.0 C374.1,416.7 372.9,418.0 371.2,418.8 C369.6,419.5 367.1,419.4 365.0,419.4 C362.9,419.4 360.6,418.4 358.8,418.8 C356.9,419.1 355.1,419.8 353.8,421.2 C352.4,422.7 351.2,425.2 350.6,427.5 C350.0,429.8 350.7,433.1 350.0,435.0 C349.3,436.9 347.7,437.7 346.2,438.8 C344.8,439.8 342.4,440.0 341.2,441.2 C340.1,442.5 340.4,445.2 339.4,446.2 C338.4,447.3 337.2,447.7 335.0,447.5 C332.8,447.3 329.2,445.7 326.2,445.0 C323.3,444.3 320.2,443.4 317.5,443.1 C314.8,442.8 312.1,442.5 310.0,443.0 C307.9,443.5 306.0,444.9 305.0,446.2 C304.0,447.6 303.3,449.6 303.8,451.2 C304.2,452.9 306.0,454.8 307.5,456.2 C309.0,457.7 311.2,458.5 312.5,460.0 C313.8,461.5 314.2,463.2 315.0,465.0 C315.8,466.8 316.8,469.3 317.0,471.0 C317.2,472.7 317.2,473.6 316.2,475.0 C315.3,476.4 313.3,478.9 311.2,479.4 C309.2,479.9 306.0,478.9 303.8,478.1 C301.5,477.3 299.8,475.8 297.5,474.4 C295.2,473.0 292.5,471.1 290.0,470.0 C287.5,468.9 284.7,468.8 282.5,467.5 C280.3,466.2 278.1,464.8 276.9,462.5 C275.6,460.2 274.9,456.0 275.0,453.8 C275.1,451.5 276.2,450.4 277.5,448.8 C278.8,447.1 281.0,445.6 282.5,443.8 C284.0,441.9 285.8,439.3 286.2,437.5 C286.7,435.7 286.0,434.4 285.0,433.1 C284.0,431.9 281.5,431.6 280.0,430.0 C278.5,428.4 277.9,425.8 276.2,423.8 C274.6,421.7 271.2,419.8 270.0,417.5 C268.8,415.2 268.9,412.1 268.8,410.0 C268.6,407.9 269.6,407.3 269.4,405.0 C269.2,402.7 268.4,399.0 267.5,396.2 C266.6,393.5 265.2,390.9 263.8,388.8 C262.3,386.6 260.6,384.4 258.8,383.1 C256.9,381.9 254.4,381.4 252.5,381.2 C250.6,381.1 249.6,380.7 247.5,382.0 C245.4,383.3 241.7,386.3 240.0,389.0 C238.3,391.7 237.3,394.8 237.5,398.0 C237.7,401.2 239.6,405.3 241.2,408.0 C242.9,410.7 245.2,412.4 247.5,414.0 C249.8,415.6 253.3,416.1 255.0,417.5 C256.7,418.9 257.5,420.8 257.5,422.5 C257.5,424.2 256.2,426.0 255.0,427.5 C253.8,429.0 251.9,429.6 250.0,431.2 C248.1,432.9 244.8,435.0 243.8,437.5 C242.7,440.0 244.0,443.5 243.8,446.2 C243.5,449.0 243.3,451.8 242.5,453.8 C241.7,455.7 241.7,456.7 238.8,458.1 C235.8,459.5 232.3,463.4 225.0,462.0 C217.7,460.6 200.8,460.3 195.0,450.0 C189.2,439.7 195.0,411.7 190.0,400.0 C185.0,388.3 170.0,388.3 165.0,380.0 C160.0,371.7 169.2,358.3 160.0,350.0 C150.8,341.7 120.0,336.7 110.0,330.0 C100.0,323.3 118.3,311.7 100.0,310.0 C81.7,308.3 16.7,338.3 0.0,320.0 C-16.7,301.7 -8.3,231.7 0.0,200.0 C8.3,168.3 34.2,141.7 50.0,130.0 C65.8,118.3 86.2,126.3 95.0,130.0 C103.8,133.7 101.2,147.8 102.5,152.0Z" fill="#e67300"/>
<path d="M230.6,199.0 C230.9,196.9 231.4,195.1 233.0,192.8 C234.6,190.5 237.3,187.3 240.0,185.0 C242.7,182.7 246.0,180.3 249.4,178.8 C252.8,177.2 256.7,176.0 260.3,175.6 C263.9,175.2 267.9,175.6 271.2,176.4 C274.6,177.2 277.5,179.4 280.6,180.3 C283.7,181.2 286.9,182.2 290.0,181.9 C293.1,181.6 296.3,179.9 299.4,178.8 C302.5,177.6 306.1,175.8 308.8,174.8 C311.4,173.8 313.3,172.4 315.0,172.5 C316.7,172.6 318.0,173.8 318.9,175.6 C319.8,177.4 320.9,180.9 320.5,183.4 C320.1,185.9 318.3,188.4 316.6,190.5 C314.9,192.6 313.2,194.5 310.3,195.9 C307.4,197.3 303.3,198.2 299.4,199.0 C295.5,199.8 290.8,199.8 286.9,200.6 C283.0,201.4 279.3,202.2 275.9,203.8 C272.5,205.3 269.7,208.2 266.6,210.0 C263.5,211.8 260.1,213.5 257.2,214.7 C254.3,215.9 252.0,217.0 249.4,217.3 C246.8,217.6 243.9,217.4 241.6,216.5 C239.2,215.6 237.0,213.9 235.3,212.0 C233.6,210.1 232.2,207.5 231.4,205.3 C230.6,203.1 230.3,201.1 230.6,199.0Z" fill="#e67300"/>
<path d="M318.5,280.8 C320.2,280.1 321.8,279.5 323.5,279.5 C325.2,279.5 327.4,279.7 328.5,280.8 C329.6,281.8 330.2,283.7 330.4,285.8 C330.6,287.8 329.4,290.8 329.8,293.2 C330.1,295.8 331.0,298.7 332.2,300.8 C333.5,302.8 335.4,304.5 337.2,305.8 C339.1,307.0 341.6,307.2 343.5,308.2 C345.4,309.3 347.1,310.3 348.5,312.0 C349.9,313.7 351.1,316.2 351.6,318.2 C352.1,320.3 352.1,322.5 351.6,324.5 C351.1,326.5 350.3,328.5 348.5,330.1 C346.7,331.7 343.9,333.0 341.0,333.9 C338.1,334.8 334.3,335.1 331.0,335.8 C327.7,336.4 324.3,337.1 321.0,337.6 C317.7,338.1 313.7,338.7 311.0,338.5 C308.3,338.3 306.8,337.5 304.8,336.4 C302.7,335.3 300.4,333.8 298.5,332.0 C296.6,330.2 294.9,328.0 293.5,325.8 C292.1,323.5 290.8,320.8 290.4,318.2 C290.0,315.8 290.3,313.2 291.0,310.8 C291.7,308.2 293.1,305.8 294.8,303.2 C296.4,300.8 298.9,298.1 301.0,295.8 C303.1,293.4 305.2,291.0 307.2,288.9 C309.3,286.8 311.6,284.6 313.5,283.2 C315.4,281.9 316.8,281.4 318.5,280.8Z" fill="#e67300"/>
<path d="M352.9,280.8 C353.7,278.5 354.6,277.7 356.0,277.0 C357.4,276.3 359.3,276.1 361.0,276.8 C362.7,277.4 364.8,278.8 366.0,280.8 C367.2,282.7 368.2,285.5 368.5,288.2 C368.8,291.0 368.5,294.5 367.9,297.0 C367.3,299.5 366.1,301.7 364.8,303.2 C363.4,304.8 361.4,306.1 359.8,306.4 C358.1,306.7 356.1,306.2 354.8,305.1 C353.4,304.0 352.2,301.9 351.6,299.5 C351.0,297.1 350.8,293.9 351.0,290.8 C351.2,287.6 352.1,283.0 352.9,280.8Z" fill="#e67300"/>
<path d="M392.9,273.2 C393.2,272.0 392.4,271.3 394.8,270.8 C397.1,270.2 403.1,270.4 407.2,270.1 C411.4,269.9 416.2,269.7 419.8,269.2 C423.3,268.8 426.4,267.4 428.5,267.2 C430.6,267.1 431.3,267.5 432.2,268.2 C433.2,269.0 434.1,270.8 434.1,272.0 C434.1,273.2 433.2,274.8 432.2,275.8 C431.3,276.7 429.9,277.4 428.5,277.6 C427.1,277.8 425.4,276.9 424.1,277.0 C422.9,277.1 421.8,277.3 421.0,278.2 C420.2,279.2 420.4,281.6 419.1,282.6 C417.9,283.6 415.9,283.9 413.5,284.5 C411.1,285.1 407.2,285.5 404.8,286.4 C402.2,287.3 400.2,289.2 398.5,290.1 C396.8,291.0 395.7,292.0 394.8,292.0 C393.8,292.0 393.1,291.4 392.9,290.1 C392.7,288.9 393.5,286.5 393.5,284.5 C393.5,282.5 393.0,280.1 392.9,278.2 C392.8,276.4 392.6,274.5 392.9,273.2Z" fill="#e67300"/>
<path d="M454.1,287.0 C454.4,286.1 455.1,285.0 456.0,284.5 C456.9,284.0 458.1,283.7 459.8,283.9 C461.4,284.1 464.0,284.9 466.0,285.8 C468.0,286.6 471.0,287.8 471.6,288.9 C472.2,290.0 470.7,291.5 469.8,292.6 C468.8,293.7 466.8,294.6 466.0,295.8 C465.2,296.9 465.4,298.8 464.8,299.5 C464.1,300.2 463.3,300.4 462.2,300.1 C461.2,299.8 459.5,298.7 458.5,297.6 C457.5,296.5 456.7,294.5 456.0,293.2 C455.3,292.0 454.8,291.1 454.5,290.1 C454.2,289.1 453.9,287.9 454.1,287.0Z" fill="#e67300"/>
<path d="M108.0,294.0 C109.0,292.2 112.4,295.2 114.0,295.0 C115.6,294.8 114.8,293.5 117.5,292.5 C120.2,291.5 126.2,289.8 130.0,288.8 C133.8,287.7 136.7,286.2 140.0,286.2 C143.3,286.2 147.1,287.5 150.0,288.8 C152.9,290.0 156.7,292.3 157.5,293.8 C158.3,295.2 157.1,296.9 155.0,297.5 C152.9,298.1 148.3,296.9 145.0,297.5 C141.7,298.1 138.3,300.0 135.0,301.2 C131.7,302.5 128.2,304.4 125.0,305.0 C121.8,305.6 118.8,304.8 116.0,305.0 C113.2,305.2 109.3,307.8 108.0,306.0 C106.7,304.2 107.0,295.8 108.0,294.0Z" fill="#fdd37f"/>
<path d="M13.0,240.0 C12.7,238.6 13.5,232.8 15.0,230.0 C16.5,227.2 18.8,224.9 22.0,223.0 C25.2,221.1 30.4,219.2 34.0,218.5 C37.6,217.8 42.2,217.2 43.5,218.5 C44.8,219.8 43.0,223.6 42.0,226.0 C41.0,228.4 39.3,231.1 37.5,233.0 C35.7,234.9 33.4,236.5 31.0,237.5 C28.6,238.5 25.7,238.8 23.4,239.0 C21.1,239.2 18.7,238.3 17.0,238.5 C15.3,238.7 13.3,241.4 13.0,240.0Z" fill="#fdd37f"/>
<path d="M58.0,207.5 C59.8,204.2 62.2,202.9 65.0,200.0 C67.8,197.1 71.7,192.6 75.0,190.0 C78.3,187.4 80.8,185.8 85.0,184.5 C89.2,183.2 94.2,182.4 100.0,182.0 C105.8,181.6 113.3,181.4 120.0,182.0 C126.7,182.6 133.3,184.0 140.0,185.5 C146.7,187.0 154.2,189.5 160.0,190.8 C165.8,192.1 170.0,193.1 175.0,193.3 C180.0,193.5 186.5,191.6 190.0,192.0 C193.5,192.4 194.3,193.8 196.0,195.5 C197.7,197.2 199.3,199.7 200.0,202.5 C200.7,205.3 200.4,209.2 200.0,212.5 C199.6,215.8 198.8,218.8 197.5,222.5 C196.2,226.2 194.2,230.8 192.5,235.0 C190.8,239.2 189.6,243.8 187.5,247.5 C185.4,251.2 182.5,254.6 180.0,257.5 C177.5,260.4 175.0,262.9 172.5,265.0 C170.0,267.1 168.8,268.3 165.0,270.0 C161.2,271.7 154.2,273.8 150.0,275.0 C145.8,276.2 143.3,276.7 140.0,277.5 C136.7,278.3 133.8,278.9 130.0,280.0 C126.2,281.1 120.8,282.0 117.5,284.0 C114.2,286.0 112.9,288.5 110.0,292.0 C107.1,295.5 106.7,301.2 100.0,305.0 C93.3,308.8 80.0,313.3 70.0,315.0 C60.0,316.7 48.3,317.5 40.0,315.0 C31.7,312.5 26.7,305.0 20.0,300.0 C13.3,295.0 2.0,290.0 0.0,285.0 C-2.0,280.0 5.5,272.5 8.0,270.0 C10.5,267.5 13.0,270.8 15.0,270.0 C17.0,269.2 17.9,267.1 20.0,265.0 C22.1,262.9 24.6,260.0 27.5,257.5 C30.4,255.0 34.6,252.9 37.5,250.0 C40.4,247.1 42.8,243.3 45.0,240.0 C47.2,236.7 49.5,233.3 51.0,230.0 C52.5,226.7 52.8,223.8 54.0,220.0 C55.2,216.2 56.2,210.8 58.0,207.5Z" fill="#e60000"/>
<path d="M82.5,205.0 C85.4,203.1 90.0,201.8 95.0,201.0 C100.0,200.2 106.7,200.7 112.5,200.5 C118.3,200.3 123.8,200.2 130.0,200.0 C136.2,199.8 144.2,199.3 150.0,199.0 C155.8,198.7 160.8,197.9 165.0,198.0 C169.2,198.1 172.8,198.3 175.0,199.5 C177.2,200.7 177.8,202.4 178.0,205.0 C178.2,207.6 177.7,212.3 176.5,215.0 C175.3,217.7 173.6,219.2 171.0,221.0 C168.4,222.8 164.9,224.6 161.0,226.0 C157.1,227.4 151.8,228.4 147.5,229.5 C143.2,230.6 138.3,231.2 135.0,232.5 C131.7,233.8 129.3,235.0 127.5,237.5 C125.7,240.0 125.2,244.2 124.0,247.5 C122.8,250.8 121.9,254.6 120.0,257.5 C118.1,260.4 115.0,262.7 112.5,265.0 C110.0,267.3 107.9,269.8 105.0,271.5 C102.1,273.2 98.8,274.6 95.0,275.0 C91.2,275.4 86.2,274.8 82.5,274.0 C78.8,273.2 75.8,271.5 72.5,270.0 C69.2,268.5 65.4,267.1 62.5,265.0 C59.6,262.9 56.6,260.0 55.0,257.5 C53.4,255.0 52.6,252.5 53.0,250.0 C53.4,247.5 55.1,245.4 57.5,242.5 C59.9,239.6 64.8,235.8 67.5,232.5 C70.2,229.2 72.3,225.8 74.0,222.5 C75.7,219.2 76.1,215.4 77.5,212.5 C78.9,209.6 79.6,206.9 82.5,205.0Z" fill="#730000"/>
</g>
<path d="M130.0,144.0 L132.0,142.5 L135.6,139.5 L137.5,137.5 L140.2,137.7 L142.5,139.7 L145.0,140.0 L145.3,143.1 L147.5,145.6 L148.7,147.4 L149.0,150.0 L149.0,152.5 L149.7,156.7 L149.1,159.2 L150.0,162.5 L151.1,165.2 L152.1,168.5 L152.5,172.5 L153.7,174.6 L156.7,177.3 L158.0,179.0 L160.0,181.0 L162.5,185.0 L162.1,182.3 L162.7,178.5 L162.5,175.0 L165.7,172.5 L167.5,171.0 L170.7,172.1 L172.5,174.0 L174.5,172.0 L177.5,170.0 L178.5,167.0 L180.0,164.9 L181.0,162.5 L184.7,162.8 L187.3,162.6 L189.6,161.9 L192.9,161.7 L196.0,161.0 L195.9,158.3 L196.6,155.0 L196.6,151.8 L196.0,149.0" fill="none" stroke="#2a261f" stroke-width="0.7" stroke-linejoin="round" opacity="0.9"/>
<path d="M196.0,161.0 L196.9,164.4 L196.5,166.8 L197.5,170.0 L199.2,173.0 L202.0,174.4 L203.9,176.9 L205.0,179.0 L206.9,181.4 L210.3,182.3 L212.6,184.6 L215.0,186.0 L218.1,187.5 L220.2,188.8 L222.1,189.2 L225.0,191.0 L228.5,191.4 L231.0,191.0 L229.6,194.3 L228.8,196.0 L228.3,198.6 L227.2,202.1 L225.8,204.3 L225.0,207.5 L222.9,210.2 L222.0,212.5 L221.0,215.7 L219.0,218.1 L218.0,219.6 L217.0,222.7 L215.4,224.6 L213.9,227.0 L212.5,230.0 L210.4,232.9 L208.8,234.3 L208.1,238.0 L207.0,239.7 L205.0,242.5 L204.8,245.4 L204.7,248.9 L203.6,252.0 L203.8,254.6 L203.0,257.4 L202.5,260.0 L202.2,263.6 L201.6,267.4 L202.0,270.0 L202.7,273.4 L202.5,276.0" fill="none" stroke="#2a261f" stroke-width="0.7" stroke-linejoin="round" opacity="0.9"/>
<path d="M5.0,255.0 L8.2,256.2 L9.6,256.5 L12.6,257.5 L14.5,258.5 L17.9,260.4 L19.7,260.8 L23.0,261.5 L25.0,262.5 L27.4,262.8 L29.9,263.5 L33.0,265.3 L36.2,264.9 L38.3,266.9 L41.3,267.6 L44.4,268.2 L47.1,268.0 L50.1,269.2 L52.5,270.0 L54.8,270.6 L56.8,271.8 L60.6,273.3 L62.7,274.9 L64.5,275.3 L67.3,277.2 L69.9,277.2 L72.2,278.8 L75.7,279.7 L77.7,281.8 L79.9,282.1 L82.3,283.7 L85.3,285.0 L87.3,285.7 L89.5,286.8 L93.0,287.2 L95.0,289.0 L96.8,287.5 L100.0,285.0 L103.5,285.2 L106.6,284.6 L110.0,284.0 L113.2,282.0 L114.8,280.9 L117.5,280.0 L120.6,279.9 L124.2,278.7 L126.5,277.6 L130.0,277.5 L131.3,274.8 L133.9,271.8 L135.0,270.0 L137.5,266.0 L140.3,265.3 L143.7,265.5 L147.5,266.0 L150.0,270.0 L152.2,271.4 L155.4,272.8 L157.4,275.1 L160.0,276.0 L162.7,276.0 L165.3,276.0 L168.0,276.0 L170.6,276.0 L173.3,276.0 L175.9,276.0 L178.6,276.0 L181.2,276.0 L183.9,276.0 L186.6,276.0 L189.2,276.0 L191.9,276.0 L194.5,276.0 L197.2,276.0 L199.8,276.0 L202.5,276.0" fill="none" stroke="#2a261f" stroke-width="0.7" stroke-linejoin="round" opacity="0.9"/>
<path d="M161.0,276.0 L161.9,279.0 L161.5,282.1 L161.0,284.8 L160.9,287.5 L161.5,290.5 L161.3,293.5 L161.7,296.2 L161.7,299.0 L162.4,300.9 L162.5,304.0 L164.7,304.2 L168.1,304.7 L170.8,304.7 L174.7,304.7 L177.8,304.7 L180.0,305.0 L181.3,307.5 L182.3,311.0 L182.3,313.9 L183.7,316.7 L184.0,320.0 L183.1,322.9 L182.3,325.2 L181.6,326.8 L180.8,329.9 L180.4,333.2 L179.0,335.0 L175.0,337.5" fill="none" stroke="#2a261f" stroke-width="0.7" stroke-linejoin="round" opacity="0.9"/>
<path d="M202.5,270.0 L205.6,270.3 L208.8,272.3 L212.5,272.5 L213.7,273.8 L215.6,276.9 L217.9,278.2 L220.0,280.0 L222.5,280.5 L224.5,281.4 L227.0,283.4 L230.0,283.6 L232.5,285.0 L234.9,285.0 L238.4,284.9 L240.8,285.8 L242.7,284.9 L245.5,286.0 L248.2,285.6 L251.0,286.3 L253.5,285.5 L256.0,286.0 L258.8,286.3 L261.9,286.4 L263.9,286.5 L267.8,287.3 L270.4,286.6 L272.4,286.4 L274.7,287.2 L278.7,287.2 L281.0,287.6 L284.4,287.2 L287.0,288.2 L289.0,288.5 L291.7,288.1 L294.2,288.4 L298.0,288.7 L301.0,289.8 L303.9,290.0 L306.0,289.5" fill="none" stroke="#2a261f" stroke-width="0.7" stroke-linejoin="round" opacity="0.9"/>
<path d="M326.1,232.0 L329.2,233.0 L331.6,234.4 L331.7,236.7 L331.2,240.1 L330.0,242.2 L328.3,244.4 L326.2,247.7 L323.8,250.0 L321.5,252.4 L321.1,254.9 L319.0,256.2 L318.5,259.7 L317.5,262.0 L315.6,265.8 L315.2,268.8 L314.0,270.8 L311.9,273.1 L310.9,275.7 L309.7,278.1 L309.3,281.4 L307.1,283.8 L307.5,285.9 L305.8,289.0 L305.7,291.4 L304.0,294.3 L303.6,296.1 L302.1,298.6 L301.9,301.6 L300.7,303.9 L301.4,306.4 L299.7,310.4 L299.5,312.5 L300.5,315.4 L300.5,317.6 L300.8,320.3 L301.1,323.4 L300.8,326.4 L301.1,328.3 L300.5,331.8 L300.3,334.4 L299.0,337.3 L298.3,340.0 L297.9,343.4 L297.8,346.3 L296.7,349.4 L295.3,350.8 L293.6,353.0 L291.8,355.8 L289.7,357.2 L287.0,359.2 L285.0,361.9 L283.4,365.0 L280.3,367.3 L277.9,368.5 L275.6,371.2 L275.1,374.1 L273.8,376.4 L271.4,377.5 L270.9,380.6 L270.0,382.9 L269.6,385.4 L267.8,388.4 L268.5,391.8 L269.4,394.7 L270.9,397.8" fill="none" stroke="#2a261f" stroke-width="0.7" stroke-linejoin="round" opacity="0.9"/>
<path d="M358.9,178.1 L358.1,180.7 L357.1,184.4 L357.3,187.5 L355.3,190.4 L354.5,193.9 L353.4,196.9 L352.4,198.8 L351.3,202.6 L350.3,204.7 L349.7,207.3 L347.6,209.9 L347.5,212.4 L345.6,214.0 L344.4,215.5 L342.9,217.5 L340.9,220.3 L337.7,221.7 L335.1,225.2 L333.1,226.6 L330.7,228.4 L329.0,230.0 L326.1,232.0" fill="none" stroke="#2a261f" stroke-width="0.7" stroke-linejoin="round" opacity="0.9"/>
<path d="M326.1,232.0 L329.3,231.5 L332.5,231.2 L334.7,231.2 L338.1,233.3 L340.2,234.4 L341.1,236.6 L341.6,239.9 L341.7,242.2 L340.5,245.2 L341.2,248.1 L340.2,250.0 L339.6,253.7 L338.6,256.2 L339.7,259.3 L342.4,261.1 L344.1,264.0 L346.1,264.2 L349.1,265.0 L351.9,265.6 L352.3,268.8 L350.7,271.0 L351.1,273.4 L349.9,275.8 L347.2,278.9 L349.2,281.1 L349.5,283.8 L351.1,285.9 L353.2,288.6 L355.0,292.2 L357.0,292.4 L359.6,293.3 L362.8,294.5" fill="none" stroke="#2a261f" stroke-width="0.7" stroke-linejoin="round" opacity="0.9"/>
<path d="M362.8,294.5 L360.7,297.3 L358.1,300.0 L356.5,302.6 L354.0,304.7 L352.7,307.8 L354.6,309.6 L356.6,312.5 L356.7,315.8 L356.6,318.2 L356.6,320.3 L356.6,324.1 L357.2,327.0 L357.3,329.7 L357.3,332.9 L358.5,334.4 L358.1,337.5 L358.0,340.4 L359.7,343.3 L359.7,346.9 L359.5,350.1 L359.7,353.1 L357.0,353.3 L353.4,354.7 L350.5,355.5 L348.8,357.8 L347.5,357.2 L348.6,359.4 L349.0,363.1 L349.1,365.0 L346.1,366.5 L342.8,368.1" fill="none" stroke="#2a261f" stroke-width="0.7" stroke-linejoin="round" opacity="0.9"/>
<path d="M357.3,329.7 L354.6,330.5 L350.9,330.3 L347.2,330.5 L344.8,331.8 L341.3,333.4 L339.4,334.4 L336.9,332.7 L332.5,331.9 L330.0,331.2 L328.1,329.7 L325.3,329.2 L322.2,327.3 L319.6,329.2 L317.5,332.0 L313.7,331.0 L311.2,329.7 L308.8,327.6 L305.0,326.6 L305.8,322.7 L303.8,323.3 L301.1,325.0" fill="none" stroke="#2a261f" stroke-width="0.7" stroke-linejoin="round" opacity="0.9"/>
<path d="M413.5,201.2 L412.2,203.5 L410.4,206.2 L407.5,207.1 L404.8,208.8 L403.5,211.6 L401.0,215.0 L399.8,217.6 L399.9,219.4 L398.5,222.5 L399.3,224.9 L399.0,228.2 L399.1,231.2 L398.7,235.0 L397.2,238.8 L399.0,242.6 L399.8,245.0 L398.9,247.2 L397.2,250.0 L394.4,250.0 L392.1,250.3 L388.5,251.2 L385.8,253.1 L382.2,255.0 L379.0,256.6 L376.0,258.8 L373.5,260.2 L370.3,261.1 L367.5,262.5 L365.8,265.6 L365.2,268.3 L363.6,270.3 L362.9,274.0 L361.9,276.0 L361.2,279.7 L362.0,283.5 L361.7,285.7 L362.0,289.0 L362.3,291.9 L362.8,294.5" fill="none" stroke="#2a261f" stroke-width="0.7" stroke-linejoin="round" opacity="0.9"/>
<path d="M419.1,201.9 L420.0,205.0 L419.5,207.5 L419.5,210.6 L420.4,212.5 L421.2,215.6 L422.4,218.8 L422.6,222.3 L422.9,225.0 L424.0,228.4 L424.8,231.8 L425.6,234.5 L426.0,237.5 L427.0,241.5 L426.3,244.2 L427.2,247.5 L429.3,249.5 L431.0,252.5 L430.0,255.1 L430.4,258.1 L427.9,262.5 L429.1,267.5 L426.9,268.8 L424.7,271.5 L422.6,273.3 L421.4,275.8" fill="none" stroke="#2a261f" stroke-width="0.7" stroke-linejoin="round" opacity="0.9"/>
<path d="M362.8,294.5 L365.4,297.3 L367.5,300.0 L370.8,301.2 L373.8,302.3 L376.4,300.3 L380.0,299.2 L383.1,297.5 L386.2,296.9 L387.9,294.5 L389.4,290.6 L387.8,285.9 L391.7,282.8 L394.6,284.3 L397.2,285.5 L400.3,285.9 L403.1,285.1 L405.3,283.9 L408.1,282.0 L411.4,280.7 L412.6,280.2 L415.9,279.7 L419.2,277.2 L421.4,275.8" fill="none" stroke="#2a261f" stroke-width="0.7" stroke-linejoin="round" opacity="0.9"/>
<path d="M421.4,275.8 L423.9,276.5 L426.0,278.2 L427.7,281.6 L428.5,284.5 L431.2,282.2 L433.4,281.0 L434.8,279.5 L437.3,278.0 L439.1,276.5 L441.3,275.1 L443.5,273.2 L446.1,273.8 L448.0,275.7 L451.0,276.4 L454.2,277.7 L456.0,278.2 L459.1,282.0 L461.0,279.4 L463.5,278.2 L466.5,279.1 L468.6,279.7 L471.0,280.8 L473.4,281.9 L476.8,282.5 L479.8,282.6 L483.5,280.1 L486.0,278.9 L489.9,277.6 L493.5,277.0 L497.2,277.6" fill="none" stroke="#2a261f" stroke-width="0.7" stroke-linejoin="round" opacity="0.9"/>
<path d="M470.4,226.2 L468.6,227.7 L466.0,230.0 L464.3,232.8 L462.2,236.2 L460.7,237.7 L458.8,240.4 L457.2,242.5 L454.8,245.0" fill="none" stroke="#2a261f" stroke-width="0.7" stroke-linejoin="round" opacity="0.9"/>
<path d="M454.8,245.0 L453.7,248.5 L453.5,252.5 L453.5,256.4 L454.8,260.0 L452.2,261.1 L451.0,263.8 L447.2,261.2 L443.7,260.2 L441.0,258.1 L437.9,258.2 L434.6,257.7 L431.0,258.1" fill="none" stroke="#2a261f" stroke-width="0.7" stroke-linejoin="round" opacity="0.9"/>
<path d="M454.8,245.0 L457.4,245.3 L461.0,246.2 L462.9,245.2 L465.4,243.0 L468.5,242.5 L472.2,241.9 L470.6,245.8 L469.8,248.8 L472.4,250.1 L474.8,251.2 L479.8,251.2 L481.2,247.7 L482.2,245.0 L485.5,245.4 L488.5,246.2 L490.6,246.3 L493.6,246.8 L496.3,246.5 L499.8,246.9" fill="none" stroke="#2a261f" stroke-width="0.7" stroke-linejoin="round" opacity="0.9"/>
<path d="M454.8,260.0 L458.1,261.5 L461.0,262.5 L463.9,261.0 L465.9,260.3 L468.5,260.0 L470.9,259.0 L473.5,258.1 L471.8,262.3 L471.0,265.0 L472.4,266.8 L474.8,268.8 L477.6,267.4 L480.2,266.3 L482.2,265.0 L484.5,264.5 L487.5,262.7 L491.0,261.2 L494.1,261.0 L496.7,259.8 L498.5,258.8 L501.6,260.0" fill="none" stroke="#2a261f" stroke-width="0.7" stroke-linejoin="round" opacity="0.9"/>
<path d="M459.1,282.0 L462.2,285.8 L464.6,286.6 L467.8,287.7 L469.1,289.4 L472.2,290.8 L475.2,292.4 L478.5,295.1 L482.2,297.0" fill="none" stroke="#2a261f" stroke-width="0.7" stroke-linejoin="round" opacity="0.9"/>
<path d="M462.2,285.8 L463.0,288.3 L463.5,292.0 L464.8,297.0 L462.2,300.8 L458.5,302.6 L461.0,307.0 L463.4,308.6 L464.8,311.4 L468.5,311.4" fill="none" stroke="#2a261f" stroke-width="0.7" stroke-linejoin="round" opacity="0.9"/>
<path d="M360.0,355.6 L362.8,353.8 L365.0,352.5 L367.2,352.6 L369.4,350.9 L371.7,350.4 L373.5,348.8 L376.9,347.6 L378.8,346.2 L380.9,346.7 L384.2,345.9 L386.6,346.2 L389.6,348.9 L392.8,350.9 L395.7,351.2 L397.3,351.9 L400.6,352.5 L403.5,353.0 L405.2,355.0 L407.1,356.6 L410.0,357.2 L413.2,359.4 L415.7,359.8 L417.2,361.9 L420.0,363.4 L423.8,364.6 L426.3,365.4 L430.0,366.0 L433.2,368.1 L436.0,370.0 L437.5,373.1 L438.0,375.0 L435.5,376.1 L434.0,378.0 L432.0,380.0 L431.3,382.7 L429.3,385.2 L428.0,388.0 L425.7,389.5 L424.0,392.0 L423.2,394.5 L422.0,398.0 L421.1,400.8 L420.0,404.0 L421.7,406.8 L423.0,410.0 L421.4,412.4 L420.0,415.0 L416.2,418.1 L414.9,421.0 L413.1,424.4 L413.5,427.0 L413.1,429.4 L413.9,432.2 L412.4,434.0 L409.2,436.4 L407.1,437.8 L405.3,440.0 L403.3,440.7 L399.6,442.0 L397.9,442.5 L394.9,443.6 L392.8,444.7 L390.4,445.6 L387.9,446.6 L384.2,448.0 L381.9,449.4 L378.7,449.9 L375.9,450.4 L372.5,452.0 L374.6,454.1 L377.0,455.5 L380.0,459.5" fill="none" stroke="#2a261f" stroke-width="0.7" stroke-linejoin="round" opacity="0.9"/>
<path d="M438.0,375.0 L442.1,375.1 L445.4,376.0 L448.0,376.0" fill="none" stroke="#2a261f" stroke-width="0.7" stroke-linejoin="round" opacity="0.9"/>
<path d="M413.9,432.2 L417.4,434.4 L420.0,436.0 L424.0,438.0" fill="none" stroke="#2a261f" stroke-width="0.7" stroke-linejoin="round" opacity="0.9"/>
<path d="M297.5,411.9 L298.6,409.1 L299.9,407.0 L302.2,405.6 L304.6,402.9 L306.9,401.7 L310.8,401.1 L312.4,400.4 L316.2,399.4 L318.8,399.3 L321.0,397.5 L323.9,398.2 L327.2,397.0 L330.4,397.8 L333.0,398.8 L336.6,399.4 L339.6,398.3 L341.9,396.2 L343.6,393.9 L342.4,390.6 L341.2,386.9 L343.8,383.2 L345.2,380.6 L344.1,378.2 L342.0,374.4 L342.2,370.7 L342.8,368.1" fill="none" stroke="#2a261f" stroke-width="0.7" stroke-linejoin="round" opacity="0.9"/>
<path d="M332.0,361.0 L335.0,361.4 L337.6,361.0 L340.8,360.5 L343.0,361.0 L343.6,365.4 L343.0,368.5 L340.6,368.8 L338.2,367.8 L335.0,368.0 L332.0,368.5 L332.5,364.6 L332.0,361.0" fill="none" stroke="#2a261f" stroke-width="0.7" stroke-linejoin="round" opacity="0.9"/>
<path d="M212.5,390.0 L215.3,389.1 L217.0,388.4 L220.4,387.5 L222.7,385.3 L225.0,385.0 L228.1,383.4 L229.7,383.3 L232.5,382.5 L235.6,384.1 L237.9,385.1 L240.0,387.5 L243.1,387.2 L247.1,385.1 L250.0,385.0 L253.1,386.3 L256.0,387.5 L258.5,389.9 L260.0,392.3 L263.5,392.1 L266.2,393.1 L269.3,396.1 L270.9,397.8 L273.6,399.2 L277.2,401.7 L279.2,403.1 L281.9,403.8 L284.7,406.1 L286.6,407.2 L288.6,408.0 L291.4,409.6 L295.1,410.9 L297.5,411.9" fill="none" stroke="#2a261f" stroke-width="0.7" stroke-linejoin="round" opacity="0.9"/>
<path d="M297.5,411.9 L296.3,414.3 L295.9,418.1 L293.7,419.8 L292.8,422.1 L292.0,425.3 L289.7,427.5 L287.4,430.2 L286.4,433.0 L285.0,435.0 L282.4,436.8 L280.7,440.6 L279.4,442.5 L277.5,445.0 L275.2,447.1 L274.4,449.4 L272.5,451.1 L270.0,452.5 L268.0,454.7 L266.5,456.0 L264.5,459.2 L261.8,460.0 L260.0,462.5 L259.1,466.0 L257.5,469.0" fill="none" stroke="#2a261f" stroke-width="0.7" stroke-linejoin="round" opacity="0.9"/>
<path d="M296.7,416.6 L299.4,416.2 L303.8,416.3 L306.9,416.6 L309.5,416.9 L312.1,418.6 L315.0,419.1 L317.8,419.7 L320.8,420.8 L322.5,422.0 L325.5,421.2 L327.4,420.2 L330.3,419.7 L333.6,419.0 L335.5,418.4 L337.8,418.1 L341.2,418.1 L343.8,420.7 L345.2,424.4 L345.5,427.2 L346.2,430.1 L347.5,433.8 L350.0,435.6 L352.3,437.4 L353.8,440.0 L353.5,442.7 L352.2,446.2 L355.2,448.7 L356.9,452.0 L360.2,453.0 L364.0,453.5 L366.6,452.8 L370.1,452.2 L372.5,452.0" fill="none" stroke="#2a261f" stroke-width="0.7" stroke-linejoin="round" opacity="0.9"/>
<path d="M280.0,451.2 L282.8,451.4 L285.3,452.0 L288.9,452.5 L292.2,451.7 L295.0,452.5 L297.7,452.9 L299.8,454.9 L301.8,455.5 L304.7,456.1 L308.0,456.5 L310.0,457.5 L310.6,460.0 L312.3,462.0 L313.4,464.3 L313.8,467.5 L315.2,469.7 L315.1,473.7 L316.0,476.3 L317.5,478.8 L321.1,478.4 L323.1,479.4 L326.2,480.0 L328.9,482.4 L330.3,483.8 L332.5,486.2" fill="none" stroke="#2a261f" stroke-width="0.7" stroke-linejoin="round" opacity="0.9"/>
<path d="M261.2,497.5 L263.6,499.0 L266.9,498.5 L270.0,500.0 L273.2,499.9 L276.9,500.5 L278.8,500.3 L282.5,501.2 L285.8,500.2 L288.5,500.9 L292.5,500.0 L295.0,498.5 L296.9,497.2 L300.0,495.0 L303.1,495.7 L307.3,496.4 L310.0,496.2 L313.1,496.0 L317.0,496.1 L320.0,495.0 L323.3,496.3 L326.2,497.5" fill="none" stroke="#2a261f" stroke-width="0.7" stroke-linejoin="round" opacity="0.9"/>
<path d="M261.2,508.8 L264.2,508.5 L266.2,508.7 L270.2,509.4 L272.5,508.8 L276.0,509.9 L279.3,509.8 L281.7,510.3 L285.0,511.2 L287.9,512.7 L290.2,513.8 L292.7,514.8 L295.0,516.2 L297.0,518.6 L300.2,521.1 L302.5,522.5 L305.0,523.7 L307.6,525.3 L310.0,527.5 L312.5,530.0" fill="none" stroke="#2a261f" stroke-width="0.7" stroke-linejoin="round" opacity="0.9"/>
<path d="M247.9,133.8 L248.5,138.8 L252.2,141.3 L254.8,143.1 L257.8,144.4 L260.1,146.8 L262.2,147.5 L263.7,150.3 L266.0,152.5 L266.8,155.3 L268.8,157.8 L269.1,160.0 L271.1,162.6 L272.2,166.2 L274.3,169.5 L276.0,171.2 L277.3,174.8 L278.5,177.5 L282.9,180.0 L287.2,177.5 L288.5,172.5 L289.8,170.0 L292.2,167.5 L294.9,166.4 L296.0,164.0 L298.5,162.5 L300.9,160.3 L303.5,157.5 L307.2,155.6" fill="none" stroke="#2a261f" stroke-width="0.7" stroke-linejoin="round" opacity="0.9"/>
<path d="M336.0,172.0 L340.0,173.5 L343.0,172.5 L347.0,174.5 L350.0,174.0 L353.0,176.5 L356.0,176.0 L359.0,178.5 L362.0,178.5 L364.0,181.0 L367.0,180.5 L369.0,182.0 L371.0,180.5 L373.5,182.0 L375.0,184.0 L376.0,183.5 L378.0,187.0 L379.0,188.0" fill="none" stroke="#222" stroke-width="1.5" stroke-linejoin="round"/>
<use href="#bzo" fill="none" stroke="#333" stroke-width="0.7"/>
<path d="M207.5,240.0 C206.9,236.7 205.5,233.8 205.5,230.0 C205.5,226.2 206.3,221.2 207.5,217.5 C208.7,213.8 210.4,210.0 212.5,207.5 C214.6,205.0 217.8,203.4 220.0,202.5 C222.2,201.6 224.2,201.4 226.0,202.0 C227.8,202.6 229.3,204.0 231.0,206.0 C232.7,208.0 233.7,212.0 236.0,214.0 C238.3,216.0 241.7,217.1 245.0,218.0 C248.3,218.9 252.5,218.8 256.0,219.5 C259.5,220.2 262.7,220.8 266.0,222.5 C269.3,224.2 273.1,227.1 276.0,230.0 C278.9,232.9 281.0,236.2 283.5,240.0 C286.0,243.8 288.8,248.7 291.0,252.5 C293.2,256.3 295.2,260.1 297.0,263.0 C298.8,265.9 300.4,267.7 301.5,270.0 C302.6,272.3 303.1,274.5 303.3,277.0 C303.5,279.5 303.2,282.1 302.5,285.0 C301.8,287.9 300.6,291.0 299.1,294.5 C297.6,298.0 295.5,302.2 293.5,305.8 C291.5,309.3 289.5,312.8 287.2,315.8 C285.0,318.7 282.9,321.3 279.8,323.2 C276.6,325.2 271.2,326.6 268.5,327.6 C265.8,328.6 265.8,329.0 263.4,329.5 C261.0,330.0 256.6,331.2 254.0,330.8 C251.4,330.3 249.9,328.9 247.8,326.8 C245.7,324.7 243.4,321.5 241.6,318.2 C239.8,315.0 237.9,310.7 236.9,307.3 C235.9,303.9 236.2,301.6 235.8,298.0 C235.4,294.4 235.9,289.3 234.5,285.4 C233.1,281.5 229.9,277.8 227.5,274.5 C225.1,271.2 222.5,268.1 220.0,265.5 C217.5,262.9 214.3,261.6 212.5,259.0 C210.7,256.4 209.8,253.2 209.0,250.0 C208.2,246.8 208.1,243.3 207.5,240.0Z" fill="none" stroke="#111" stroke-width="1.15" stroke-linejoin="round"/>
<path d="M272.0,136.0 C272.5,138.3 273.9,145.6 275.0,150.0 C276.1,154.4 277.1,159.2 278.5,162.5 C279.9,165.8 281.0,168.1 283.5,169.5 C286.0,170.9 289.8,171.0 293.5,171.0 C297.2,171.0 303.4,170.5 306.0,169.5 C308.6,168.5 308.3,166.4 309.0,165.0 C309.7,163.6 309.8,161.7 310.0,161.0" fill="none" stroke="#111" stroke-width="1.15" stroke-linejoin="round"/>
<path d="M317.0,165.0 C317.2,166.7 317.8,171.2 318.5,175.0 C319.2,178.8 319.8,183.8 321.5,187.5 C323.2,191.2 326.1,194.2 328.5,197.5 C330.9,200.8 333.9,204.2 336.0,207.5 C338.1,210.8 340.0,213.8 341.0,217.5 C342.0,221.2 341.3,226.2 342.0,230.0 C342.7,233.8 343.7,236.8 345.0,240.0 C346.3,243.2 347.8,246.5 350.0,249.0 C352.2,251.5 355.4,252.8 358.5,255.0 C361.6,257.2 365.6,259.8 368.5,262.0 C371.4,264.2 373.9,265.8 376.0,268.2 C378.1,270.8 379.5,273.4 381.0,277.0 C382.5,280.6 384.0,285.3 385.0,290.0 C386.0,294.7 386.0,300.0 387.0,305.0 C388.0,310.0 390.0,315.0 391.0,320.0 C392.0,325.0 392.8,331.7 393.0,335.0 C393.2,338.3 392.8,338.3 392.5,340.0 C392.2,341.7 392.3,343.3 391.2,345.0 C390.2,346.7 388.5,348.3 386.2,350.0 C384.0,351.7 380.6,353.4 377.5,355.0 C374.4,356.6 370.3,357.9 367.5,359.4 C364.7,360.9 362.1,362.3 360.6,363.8 C359.1,365.2 358.8,366.4 358.8,368.1 C358.8,369.8 359.4,371.8 360.6,373.8 C361.9,375.7 363.9,378.1 366.2,380.0 C368.6,381.9 372.1,383.4 375.0,385.0 C377.9,386.6 381.0,387.9 383.8,389.4 C386.5,390.9 389.3,392.1 391.2,393.8 C393.2,395.4 394.6,397.3 395.6,399.4 C396.6,401.5 397.4,404.1 397.5,406.2 C397.6,408.4 397.3,410.5 396.2,412.5 C395.2,414.5 393.3,416.5 391.2,418.1 C389.2,419.7 386.2,421.1 383.8,421.9 C381.2,422.7 378.8,422.6 376.2,423.1 C373.8,423.6 370.8,423.9 368.8,425.0 C366.7,426.1 365.2,428.5 363.8,430.0 C362.3,431.5 361.7,431.9 360.0,433.8 C358.3,435.6 355.8,439.0 353.8,441.2 C351.7,443.5 350.0,445.2 347.5,447.5 C345.0,449.8 341.7,452.5 338.8,455.0 C335.8,457.5 332.7,460.0 330.0,462.5 C327.3,465.0 324.6,467.9 322.5,470.0 C320.4,472.1 319.0,473.5 317.5,475.0 C316.0,476.5 315.4,477.9 313.8,478.8 C312.1,479.6 309.8,480.5 307.5,480.0 C305.2,479.5 302.9,477.7 300.0,476.0 C297.1,474.3 292.9,471.7 290.0,470.0 C287.1,468.3 284.6,467.7 282.5,466.0 C280.4,464.3 278.8,462.7 277.5,460.0 C276.2,457.3 275.8,453.3 275.0,450.0 C274.2,446.7 273.5,442.9 272.5,440.0 C271.5,437.1 270.9,434.2 269.0,432.5 C267.1,430.8 264.0,430.2 261.0,430.0 C258.0,429.8 253.7,430.2 251.0,431.0 C248.3,431.8 246.2,432.7 245.0,435.0 C243.8,437.3 244.7,441.7 244.0,445.0 C243.3,448.3 241.8,452.9 241.0,455.0 C240.2,457.1 239.3,457.1 239.0,457.5" fill="none" stroke="#111" stroke-width="1.15" stroke-linejoin="round"/>
<path d="M332.2,338.0 C334.3,337.9 336.6,338.8 338.5,340.1 C340.4,341.4 342.1,343.9 343.5,346.0 C344.9,348.1 346.9,350.3 347.0,353.0 C347.1,355.7 345.2,359.4 344.0,362.0 C342.8,364.6 341.3,367.3 340.0,368.8 C338.7,370.2 337.7,370.9 336.2,370.6 C334.8,370.3 333.0,368.9 331.2,366.9 C329.5,364.9 327.1,361.1 325.6,358.8 C324.1,356.4 323.0,354.5 322.5,352.5 C322.0,350.5 321.9,349.0 322.5,347.0 C323.1,345.0 324.4,342.2 326.0,340.8 C327.6,339.2 330.2,338.1 332.2,338.0Z" fill="none" stroke="#111" stroke-width="1.15" stroke-linejoin="round"/>
<path d="M247.5,382.0 C249.6,380.7 250.6,381.1 252.5,381.2 C254.4,381.4 256.9,381.9 258.8,383.1 C260.6,384.4 262.3,386.6 263.8,388.8 C265.2,390.9 266.6,393.5 267.5,396.2 C268.4,399.0 269.3,402.3 269.4,405.0 C269.5,407.7 269.0,410.3 268.1,412.5 C267.2,414.7 265.7,417.3 263.8,418.1 C261.8,418.9 259.0,418.2 256.2,417.5 C253.5,416.8 250.0,415.6 247.5,414.0 C245.0,412.4 242.9,410.7 241.2,408.0 C239.6,405.3 237.7,401.2 237.5,398.0 C237.3,394.8 238.3,391.7 240.0,389.0 C241.7,386.3 245.4,383.3 247.5,382.0Z" fill="none" stroke="#111" stroke-width="1.15" stroke-linejoin="round"/>
<path d="M136.0,322.0 C137.5,321.7 141.8,320.8 145.0,320.0 C148.2,319.2 150.8,317.9 155.0,317.5 C159.2,317.1 166.0,317.9 170.0,317.5 C174.0,317.1 176.8,316.4 179.0,315.0 C181.2,313.6 182.8,311.3 183.0,309.0 C183.2,306.7 181.8,303.3 180.0,301.0 C178.2,298.7 175.4,296.4 172.5,295.0 C169.6,293.6 165.2,293.2 162.5,292.5 C159.8,291.8 158.1,292.0 156.0,291.0 C153.9,290.0 151.7,288.1 150.0,286.5 C148.3,284.9 147.5,282.6 146.0,281.5 C144.5,280.4 143.7,279.9 141.0,279.7 C138.3,279.4 133.5,279.7 130.0,280.0 C126.5,280.3 122.6,280.8 120.0,281.5 C117.4,282.2 115.4,283.6 114.5,284.0" fill="none" stroke="#111" stroke-width="1.15" stroke-linejoin="round"/>
<path d="M448.8,373.8 C447.3,373.7 442.7,373.2 440.0,373.5 C437.3,373.8 434.8,374.3 432.5,375.6 C430.2,376.9 428.1,378.9 426.2,381.2 C424.4,383.6 422.5,387.1 421.2,390.0 C420.0,392.9 419.1,395.8 418.8,398.8 C418.4,401.7 418.8,404.8 419.4,407.5 C420.0,410.2 421.1,413.0 422.5,415.0 C423.9,417.0 425.6,418.5 427.5,419.4 C429.4,420.3 432.7,420.4 433.8,420.6" fill="none" stroke="#111" stroke-width="1.15" stroke-linejoin="round"/>
<text transform="translate(180,118) scale(0.87,1)" class="lb">L</text>
<text transform="translate(95,243) scale(0.87,1)" class="lb">CL</text>
<text transform="translate(296,152) scale(0.87,1)" class="lb">C</text>
<text transform="translate(281,221) scale(0.87,1)" class="lb">CL</text>
<text transform="translate(434,243) scale(0.87,1)" class="lb">C</text>
<text transform="translate(339.5,306) scale(0.87,1)" class="lb">CL</text>
<text transform="translate(255.5,273.8) scale(0.87,1)" class="lb">C</text>
<text transform="translate(139,305) scale(0.87,1)" class="lb">C</text>
<text transform="translate(210,346) scale(0.87,1)" class="lb">CL</text>
<text transform="translate(336,356) scale(0.87,1)" class="lb">C</text>
<text transform="translate(432,332) scale(0.87,1)" class="lb">C</text>
<text transform="translate(299,398) scale(0.87,1)" class="lb">CL</text>
<text transform="translate(254.5,409) scale(0.87,1)" class="lb">C</text>
<text transform="translate(434,399.6) scale(0.87,1)" class="lb">CL</text>
<text transform="translate(380.5,440.5) scale(0.87,1)" class="lb">C</text>
<text transform="translate(296,485.2) scale(0.87,1)" class="lb">C</text>
<text transform="translate(307.5,517.2) scale(0.87,1)" class="lb">C</text>
</g>
<g transform="translate(516,0)">
<g clip-path="url(#bz)">
<rect x="0" y="90" width="512" height="520" fill="#fdd37f"/>
<path d="M100.0,90.0 L200.0,90.0 L200.0,146.0 L196.0,148.5 L180.0,151.0 L160.0,151.0 L140.0,149.5 L125.0,146.0 L116.0,152.0Z" fill="#ffffff"/>
<path d="M245.0,486.5 C253.8,484.2 250.2,486.6 252.5,486.2 C254.8,485.9 256.7,484.8 258.8,484.4 C260.8,484.0 262.9,483.4 265.0,483.8 C267.1,484.1 269.0,485.2 271.2,486.2 C273.5,487.3 276.0,489.1 278.8,490.0 C281.5,490.9 284.4,491.7 287.5,491.9 C290.6,492.1 294.2,491.8 297.5,491.2 C300.8,490.7 304.2,489.7 307.5,488.8 C310.8,487.8 314.1,486.6 317.5,485.6 C320.9,484.6 323.4,483.4 328.0,482.5 C332.6,481.6 342.2,458.8 345.0,480.0 C347.8,501.2 369.2,588.3 345.0,610.0 C320.8,631.7 224.2,628.3 200.0,610.0 C175.8,591.7 192.5,520.6 200.0,500.0 C207.5,479.4 236.2,488.8 245.0,486.5Z" fill="#ffffff"/>
<path d="M116.0,151.0 C116.0,150.5 121.0,146.8 125.0,146.5 C129.0,146.2 134.2,148.8 140.0,149.5 C145.8,150.2 153.3,150.8 160.0,151.0 C166.7,151.2 174.0,151.4 180.0,151.0 C186.0,150.6 192.8,151.2 196.0,148.5 C199.2,145.8 193.3,139.8 199.0,135.0 C204.7,130.2 208.2,122.5 230.0,120.0 C251.8,117.5 313.3,113.3 330.0,120.0 C346.7,126.7 332.5,152.5 330.0,160.0 C327.5,167.5 318.8,163.1 314.8,165.0 C310.8,166.9 309.1,169.6 306.0,171.2 C302.9,172.9 299.8,174.6 296.0,175.0 C292.2,175.4 287.0,175.2 283.5,173.8 C280.0,172.3 277.2,169.0 274.8,166.2 C272.2,163.5 270.4,160.2 268.5,157.5 C266.6,154.8 265.6,152.0 263.5,150.0 C261.4,148.0 257.8,146.0 256.0,145.5 C254.2,145.0 254.3,145.8 252.5,147.0 C250.7,148.2 247.5,149.5 245.0,152.5 C242.5,155.5 240.0,161.1 237.5,165.0 C235.0,168.9 232.1,173.1 230.0,176.0 C227.9,178.9 227.1,181.2 225.0,182.5 C222.9,183.8 220.4,184.8 217.5,184.0 C214.6,183.2 210.4,179.8 207.5,177.5 C204.6,175.2 201.9,172.5 200.0,170.0 C198.1,167.5 196.8,164.0 196.0,162.5 C195.2,161.0 197.7,161.4 195.0,161.0 C192.3,160.6 185.0,160.3 180.0,160.0 C175.0,159.7 170.0,159.7 165.0,159.0 C160.0,158.3 155.0,157.1 150.0,156.0 C145.0,154.9 139.2,153.6 135.0,152.5 C130.8,151.4 128.2,149.8 125.0,149.5 C121.8,149.2 116.0,151.5 116.0,151.0Z" fill="#ffff00"/>
<path d="M401.0,193.0 C394.8,195.9 402.1,199.9 402.9,202.5 C403.7,205.1 404.6,206.2 406.0,208.8 C407.4,211.2 409.8,214.4 411.0,217.5 C412.2,220.6 413.3,224.6 413.5,227.5 C413.7,230.4 413.3,232.5 412.2,235.0 C411.2,237.5 409.3,240.0 407.2,242.5 C405.2,245.0 402.5,247.7 399.8,250.0 C397.0,252.3 393.9,254.6 391.0,256.2 C388.1,257.9 384.8,259.2 382.2,260.0 C379.8,260.8 378.3,260.8 376.0,261.2 C373.7,261.7 370.2,261.7 368.5,262.5 C366.8,263.3 366.2,264.0 366.0,266.0 C365.8,268.0 366.8,271.0 367.2,274.5 C367.7,278.0 368.7,283.7 368.5,287.0 C368.3,290.3 366.9,291.8 366.0,294.5 C365.1,297.2 363.5,300.3 362.9,303.2 C362.3,306.2 362.2,308.5 362.2,312.0 C362.2,315.5 362.5,320.8 362.9,324.5 C363.3,328.2 364.2,331.4 364.8,334.5 C365.3,337.6 366.0,341.3 366.0,343.2 C366.0,345.2 365.8,344.9 365.0,346.2 C364.2,347.6 362.9,349.9 361.2,351.2 C359.6,352.6 357.3,353.7 355.0,354.4 C352.7,355.1 350.0,355.2 347.5,355.3 C345.0,355.4 342.5,354.8 340.0,355.0 C337.5,355.2 334.3,355.4 332.5,356.2 C330.7,357.1 329.8,358.8 329.4,360.0 C329.0,361.2 329.1,362.2 330.0,363.8 C330.9,365.3 333.3,368.7 335.0,369.4 C336.7,370.1 338.1,368.5 340.0,368.1 C341.9,367.7 344.2,367.2 346.2,366.9 C348.3,366.6 350.4,366.2 352.5,366.2 C354.6,366.2 357.3,365.9 358.8,366.9 C360.2,367.9 360.4,370.3 361.2,372.5 C362.1,374.7 362.9,377.5 363.8,380.0 C364.6,382.5 365.2,385.4 366.2,387.5 C367.3,389.6 368.3,391.4 370.0,392.5 C371.7,393.6 374.6,394.6 376.2,394.4 C377.9,394.2 378.8,392.1 380.0,391.2 C381.2,390.4 381.9,389.0 383.8,389.4 C385.6,389.8 389.3,392.1 391.2,393.8 C393.2,395.4 394.6,397.3 395.6,399.4 C396.6,401.5 397.4,404.1 397.5,406.2 C397.6,408.4 397.3,410.5 396.2,412.5 C395.2,414.5 393.3,416.5 391.2,418.1 C389.2,419.7 386.2,421.1 383.8,421.9 C381.2,422.7 378.8,422.6 376.2,423.1 C373.8,423.6 370.8,423.9 368.8,425.0 C366.7,426.1 365.2,428.5 363.8,430.0 C362.3,431.5 361.7,431.9 360.0,433.8 C358.3,435.6 355.8,439.0 353.8,441.2 C351.7,443.5 349.4,445.8 347.5,447.5 C345.6,449.2 345.2,450.5 342.5,451.2 C339.8,452.0 334.6,451.5 331.2,451.9 C327.9,452.3 324.6,452.6 322.5,453.8 C320.4,454.9 319.6,456.7 318.8,458.8 C317.9,460.8 317.6,463.3 317.5,466.2 C317.4,469.2 318.4,474.2 318.0,476.2 C317.6,478.3 317.2,477.9 315.0,478.8 C312.8,479.6 308.3,480.6 305.0,481.2 C301.7,481.9 298.3,482.4 295.0,482.5 C291.7,482.6 287.9,482.4 285.0,481.9 C282.1,481.4 280.0,480.4 277.5,479.4 C275.0,478.3 272.5,476.5 270.0,475.6 C267.5,474.7 265.0,474.2 262.5,474.0 C260.0,473.8 257.4,474.6 255.0,474.4 C252.6,474.2 249.5,471.0 248.0,473.0 C246.5,475.0 245.2,484.0 246.0,486.2 C246.8,488.5 250.4,486.6 252.5,486.2 C254.6,485.9 256.7,484.8 258.8,484.4 C260.8,484.0 262.9,483.4 265.0,483.8 C267.1,484.1 269.0,485.2 271.2,486.2 C273.5,487.3 276.0,489.1 278.8,490.0 C281.5,490.9 284.4,491.7 287.5,491.9 C290.6,492.1 294.2,491.8 297.5,491.2 C300.8,490.7 304.2,489.7 307.5,488.8 C310.8,487.8 314.1,486.6 317.5,485.6 C320.9,484.6 324.2,482.1 328.0,482.5 C331.8,482.9 324.7,489.2 340.0,488.0 C355.3,486.8 390.0,489.7 420.0,475.0 C450.0,460.3 503.3,447.5 520.0,400.0 C536.7,352.5 533.3,225.8 520.0,190.0 C506.7,154.2 459.8,184.5 440.0,185.0 C420.2,185.5 407.2,190.1 401.0,193.0Z" fill="#ffff00"/>
<path d="M237.5,262.5 C238.2,259.7 241.5,256.7 244.0,255.0 C246.5,253.3 250.5,252.7 252.5,252.5 C254.5,252.3 253.3,252.9 256.0,253.8 C258.7,254.6 264.3,255.8 268.5,257.5 C272.7,259.2 277.7,262.4 281.0,264.0 C284.3,265.6 286.2,265.5 288.5,267.0 C290.8,268.5 293.4,271.0 294.8,273.2 C296.1,275.5 296.4,278.0 296.6,280.8 C296.8,283.5 296.7,286.4 296.0,289.5 C295.3,292.6 293.7,296.2 292.2,299.5 C290.8,302.8 289.1,306.6 287.2,309.5 C285.4,312.4 283.3,315.2 281.0,317.0 C278.7,318.8 276.2,319.9 273.5,320.1 C270.8,320.3 267.7,319.2 264.8,318.2 C261.8,317.3 258.0,315.9 256.0,314.5 C254.0,313.1 253.9,312.4 252.5,310.0 C251.1,307.6 248.9,304.2 247.5,300.0 C246.1,295.8 245.2,289.7 244.0,285.0 C242.8,280.3 241.1,275.8 240.0,272.0 C238.9,268.2 236.8,265.3 237.5,262.5Z" fill="#ffff00"/>
<path d="M287.6,505.2 C288.7,503.2 289.9,502.4 292.1,501.6 C294.4,500.8 297.8,500.3 301.1,500.3 C304.4,500.3 308.7,500.9 312.0,501.6 C315.3,502.3 319.6,502.7 321.0,504.3 C322.4,505.9 321.0,509.1 320.1,511.5 C319.2,513.9 317.6,516.7 315.6,518.8 C313.7,520.9 310.7,522.6 308.4,524.2 C306.1,525.9 304.1,527.7 302.0,528.7 C299.9,529.7 297.8,530.1 295.7,530.0 C293.6,529.9 291.2,529.2 289.4,527.8 C287.6,526.4 285.5,523.9 284.9,521.5 C284.3,519.1 285.4,516.0 285.8,513.3 C286.2,510.6 286.6,507.1 287.6,505.2Z" fill="#ffff00"/>
<path d="M438.5,220.6 C440.6,220.0 443.7,219.7 446.0,220.0 C448.3,220.3 450.6,221.3 452.2,222.5 C453.9,223.7 455.4,225.2 456.0,226.9 C456.6,228.6 456.6,230.9 456.0,232.5 C455.4,234.1 453.9,235.3 452.2,236.2 C450.6,237.2 448.1,237.5 446.0,238.1 C443.9,238.7 441.4,239.1 439.8,240.0 C438.1,240.9 436.9,242.3 436.0,243.8 C435.1,245.2 434.8,247.2 434.1,248.8 C433.4,250.3 432.3,253.6 431.6,253.0 C430.9,252.4 430.3,247.6 429.8,245.0 C429.2,242.4 428.5,240.0 428.5,237.5 C428.5,235.0 428.9,232.3 429.8,230.0 C430.6,227.7 432.0,225.3 433.5,223.8 C435.0,222.2 436.4,221.2 438.5,220.6Z" fill="#fdd37f"/>
<path d="M394.8,274.5 C395.4,272.4 395.8,270.9 397.2,269.5 C398.7,268.1 401.4,267.4 403.5,266.4 C405.6,265.4 407.7,264.8 409.8,263.8 C411.8,262.7 414.8,261.7 416.0,260.0 C417.2,258.3 416.6,255.6 417.2,253.8 C417.9,251.9 418.5,249.8 419.8,248.8 C421.0,247.7 423.1,247.3 424.8,247.5 C426.4,247.7 428.6,248.8 429.8,250.0 C430.9,251.2 430.6,254.1 431.6,255.0 C432.6,255.9 434.4,255.3 436.0,255.2 C437.6,255.2 439.5,255.2 441.0,254.8 C442.5,254.3 443.5,253.6 444.8,252.5 C446.0,251.4 447.0,249.3 448.5,248.1 C450.0,246.8 451.4,245.4 453.5,245.0 C455.6,244.6 458.5,246.0 461.0,245.6 C463.5,245.2 466.0,243.1 468.5,242.5 C471.0,241.9 473.5,241.7 476.0,241.9 C478.5,242.1 481.0,243.0 483.5,243.8 C486.0,244.5 488.9,245.4 491.0,246.2 C493.1,247.1 494.9,247.3 496.0,248.8 C497.1,250.2 497.4,252.7 497.9,255.0 C498.4,257.3 499.0,260.3 499.1,262.5 C499.2,264.7 498.9,266.0 498.5,268.2 C498.1,270.5 497.4,273.5 496.6,275.8 C495.8,278.0 494.9,279.9 493.5,282.0 C492.1,284.1 490.4,286.2 488.5,288.2 C486.6,290.3 484.3,292.6 482.2,294.5 C480.2,296.4 477.7,298.1 476.0,299.5 C474.3,300.9 473.5,301.8 472.0,303.0 C470.5,304.2 468.5,305.7 467.2,307.0 C466.0,308.3 464.7,309.8 464.5,311.0 C464.3,312.2 466.4,313.4 466.0,314.5 C465.6,315.6 463.9,317.0 462.2,317.6 C460.6,318.2 458.3,318.6 456.0,318.2 C453.7,317.9 450.6,316.8 448.5,315.8 C446.4,314.7 445.2,313.5 443.5,312.0 C441.8,310.5 439.8,308.9 438.5,307.0 C437.2,305.1 436.1,302.6 436.0,300.8 C435.9,298.9 437.5,297.5 437.9,295.8 C438.3,294.0 439.0,291.6 438.5,290.1 C438.0,288.6 436.8,287.5 434.8,287.0 C432.7,286.5 429.3,286.8 426.0,287.0 C422.7,287.2 417.5,287.9 414.8,288.5 C412.0,289.1 410.6,289.9 409.8,290.8 C408.9,291.6 408.9,292.6 409.5,293.9 C410.1,295.1 412.0,296.7 413.5,298.2 C415.0,299.8 416.9,301.4 418.5,303.2 C420.1,305.1 422.7,308.0 422.9,309.5 C423.1,311.0 421.1,311.6 419.8,312.0 C418.4,312.4 416.6,312.4 414.8,311.8 C412.9,311.1 410.6,309.9 408.5,308.2 C406.4,306.6 404.1,304.1 402.2,302.0 C400.4,299.9 398.6,297.8 397.2,295.8 C395.9,293.7 394.7,291.8 394.1,289.5 C393.5,287.2 393.4,284.5 393.5,282.0 C393.6,279.5 394.1,276.6 394.8,274.5Z" fill="#fdd37f"/>
<path d="M405.0,407.5 C405.5,406.3 407.1,405.4 408.8,405.0 C410.4,404.6 413.1,404.4 415.0,405.0 C416.9,405.6 418.3,407.3 420.0,408.8 C421.7,410.2 423.7,412.7 425.0,413.8 C426.3,414.8 427.6,414.0 428.0,415.0 C428.4,416.0 428.0,418.3 427.5,420.0 C427.0,421.7 425.6,424.0 425.0,425.0 C424.4,426.0 423.2,425.1 423.8,426.2 C424.2,427.4 427.3,428.9 428.0,432.0 C428.7,435.1 429.7,442.2 428.0,445.0 C426.3,447.8 420.2,448.6 418.0,449.0 C415.8,449.4 416.5,448.3 415.0,447.5 C413.5,446.7 410.8,445.3 408.8,444.4 C406.7,443.5 404.4,442.8 402.5,441.9 C400.6,441.0 398.6,440.1 397.5,438.8 C396.4,437.4 395.4,435.6 395.6,433.8 C395.8,431.9 397.4,429.4 398.8,427.5 C400.1,425.6 402.5,424.4 403.8,422.5 C405.0,420.6 405.9,418.0 406.2,416.2 C406.6,414.5 405.8,413.5 405.6,412.0 C405.4,410.5 404.5,408.7 405.0,407.5Z" fill="#fdd37f"/>
<path d="M362.5,435.0 C363.1,435.5 362.9,435.9 363.8,436.9 C364.6,437.9 366.0,439.8 367.5,441.2 C369.0,442.7 370.8,444.6 372.5,445.6 C374.2,446.6 375.9,447.0 377.5,447.5 C379.1,448.0 381.3,448.3 381.9,448.8 C382.5,449.2 382.8,449.6 381.2,450.0 C379.7,450.4 375.6,450.7 372.5,451.2 C369.4,451.8 365.8,452.9 362.5,453.1 C359.2,453.3 355.6,452.8 352.5,452.5 C349.4,452.2 344.8,452.3 344.0,451.5 C343.2,450.7 345.9,449.2 347.5,447.5 C349.1,445.8 351.7,443.5 353.8,441.2 C355.8,439.0 358.5,434.8 360.0,433.8 C361.5,432.7 361.9,434.5 362.5,435.0Z" fill="#fdd37f"/>
<path d="M332.5,480.0 C332.9,477.6 334.2,475.7 335.0,473.8 C335.8,471.8 336.5,469.4 337.5,468.1 C338.5,466.9 339.9,466.1 341.2,466.2 C342.6,466.4 344.4,467.9 345.6,468.8 C346.8,469.6 347.3,470.8 348.5,471.5 C349.7,472.2 354.4,471.1 353.0,473.0 C351.6,474.9 343.4,480.5 340.0,483.0 C336.6,485.5 333.8,488.5 332.5,488.0 C331.2,487.5 332.1,482.4 332.5,480.0Z" fill="#fdd37f"/>
<path d="M422.9,202.5 C423.2,201.8 424.6,201.8 426.0,201.2 C427.4,200.8 427.8,200.0 431.0,199.5 C434.2,199.0 439.8,195.4 445.0,198.0 C450.2,200.6 460.2,212.2 462.0,215.0 C463.8,217.8 458.0,215.1 456.0,215.0 C454.0,214.9 452.0,214.8 449.8,214.4 C447.5,214.0 444.8,213.2 442.2,212.5 C439.8,211.8 437.0,210.7 434.8,210.0 C432.5,209.3 430.3,208.8 428.5,208.1 C426.7,207.4 425.0,206.5 424.1,205.6 C423.2,204.7 422.6,203.2 422.9,202.5Z" fill="#ffffff"/>
<path d="M415.4,294.5 C415.5,293.6 416.7,293.1 418.5,292.6 C420.3,292.1 423.3,291.8 426.0,291.8 C428.7,291.7 432.9,291.9 434.8,292.2 C436.6,292.6 437.0,293.2 437.0,293.9 C437.0,294.6 435.9,295.7 434.8,296.4 C433.6,297.1 431.2,297.3 430.4,298.2 C429.6,299.2 429.4,300.5 429.8,302.0 C430.1,303.5 431.3,305.4 432.2,307.0 C433.2,308.6 434.8,310.0 435.4,311.4 C436.0,312.8 436.3,313.9 436.0,315.1 C435.7,316.4 434.8,318.0 433.5,318.9 C432.2,319.8 430.2,320.5 428.5,320.8 C426.8,321.0 424.6,320.9 423.5,320.5 C422.4,320.1 421.7,319.5 421.6,318.2 C421.5,317.0 422.3,314.7 422.9,313.2 C423.5,311.8 425.2,310.8 425.4,309.5 C425.6,308.2 425.0,307.0 424.1,305.8 C423.2,304.5 420.8,303.2 419.8,302.0 C418.7,300.8 418.6,299.5 417.9,298.2 C417.2,297.0 415.3,295.4 415.4,294.5Z" fill="#ffffff"/>
<path d="M437.2,338.2 C437.7,337.0 438.5,335.5 439.8,334.5 C441.0,333.5 443.3,333.0 444.8,332.0 C446.2,331.0 447.2,329.6 448.5,328.2 C449.8,326.9 451.0,324.9 452.2,323.9 C453.5,322.9 454.3,322.4 456.0,322.0 C457.7,321.6 459.9,321.5 462.2,321.5 C464.6,321.5 471.2,317.6 470.0,322.0 C468.8,326.4 458.5,343.6 455.0,348.0 C451.5,352.4 451.0,348.3 449.1,348.2 C447.2,348.2 445.3,348.1 443.5,347.6 C441.7,347.1 439.6,346.0 438.5,345.1 C437.4,344.2 437.2,343.1 437.0,342.0 C436.8,340.9 436.8,339.5 437.2,338.2Z" fill="#ffffff"/>
<path d="M383.8,453.3 L390.0,452.1 L400.0,450.8 L410.0,450.8 L414.0,452.3 L416.0,462.0 L383.0,462.0Z" fill="#ffffff"/>
<path d="M271.5,137.0 L273.5,135.8 L286.0,134.5 L299.0,132.0 L302.0,100.0 L271.5,100.0Z" fill="#ffffff"/>
<path d="M102.5,152.0 C103.8,156.2 101.2,153.5 102.5,155.5 C103.8,157.5 107.1,161.8 110.0,164.0 C112.9,166.2 116.7,167.8 120.0,169.0 C123.3,170.2 126.7,169.8 130.0,171.0 C133.3,172.2 136.7,174.3 140.0,176.0 C143.3,177.7 146.2,179.3 150.0,181.0 C153.8,182.7 158.3,184.8 162.5,186.0 C166.7,187.2 170.4,188.0 175.0,188.0 C179.6,188.0 185.8,186.5 190.0,186.0 C194.2,185.5 196.2,185.0 200.0,185.0 C203.8,185.0 209.2,185.3 212.5,186.0 C215.8,186.7 217.1,188.3 220.0,189.0 C222.9,189.7 226.7,190.5 230.0,190.0 C233.3,189.5 236.7,187.5 240.0,186.0 C243.3,184.5 247.3,182.4 250.0,181.0 C252.7,179.6 253.8,178.3 256.0,177.5 C258.2,176.7 260.6,176.0 263.5,176.2 C266.4,176.5 269.8,177.9 273.5,178.8 C277.2,179.6 281.8,181.2 286.0,181.2 C290.2,181.2 294.8,180.0 298.5,178.8 C302.2,177.5 305.8,174.9 308.5,173.8 C311.2,172.6 313.1,171.4 314.8,172.0 C316.4,172.6 317.4,174.7 318.5,177.5 C319.6,180.3 321.5,185.6 321.5,188.8 C321.5,191.9 320.2,194.5 318.5,196.2 C316.8,198.0 314.3,198.9 311.0,199.5 C307.7,200.1 303.1,199.7 298.5,200.0 C293.9,200.3 288.1,200.4 283.5,201.2 C278.9,202.1 274.8,203.3 271.0,205.0 C267.2,206.7 263.5,209.4 261.0,211.2 C258.5,213.1 257.8,214.6 256.0,216.0 C254.2,217.4 253.9,218.8 250.0,219.5 C246.1,220.2 237.5,219.2 232.5,220.5 C227.5,221.8 223.3,224.7 220.0,227.0 C216.7,229.3 214.6,231.5 212.5,234.5 C210.4,237.5 208.1,241.8 207.5,245.0 C206.9,248.2 207.8,251.2 209.0,254.0 C210.2,256.8 213.0,259.9 215.0,262.0 C217.0,264.1 218.9,264.4 221.0,266.5 C223.1,268.6 225.3,271.4 227.5,274.5 C229.7,277.6 233.0,281.6 234.3,285.0 C235.6,288.4 235.1,291.8 235.5,295.0 C235.9,298.2 237.8,302.4 236.5,304.5 C235.2,306.6 230.3,306.3 227.5,307.3 C224.7,308.3 221.6,309.0 219.7,310.4 C217.8,311.8 216.2,313.1 215.8,315.5 C215.4,317.9 216.1,321.2 217.3,324.5 C218.5,327.8 220.6,331.8 222.8,335.4 C225.0,339.0 227.5,343.5 230.6,346.4 C233.7,349.3 237.3,351.6 241.6,352.6 C245.9,353.6 252.3,352.2 256.2,352.5 C260.1,352.8 262.5,353.0 265.0,354.4 C267.5,355.8 269.0,358.4 271.2,360.6 C273.5,362.8 276.0,365.5 278.8,367.5 C281.5,369.5 284.6,370.9 287.5,372.5 C290.4,374.1 293.8,375.3 296.2,376.9 C298.8,378.5 300.9,379.9 302.5,381.9 C304.1,383.9 304.9,386.4 305.6,388.8 C306.3,391.1 306.8,393.8 306.9,396.2 C307.0,398.8 306.6,401.2 306.2,403.8 C305.9,406.2 305.6,409.0 305.0,411.2 C304.4,413.5 303.5,414.6 302.5,417.5 C301.5,420.4 300.0,424.8 298.8,428.8 C297.5,432.7 296.1,437.5 295.0,441.2 C293.9,445.0 291.7,448.3 291.9,451.2 C292.1,454.2 294.3,456.7 296.2,458.8 C298.2,460.8 301.0,462.7 303.8,463.8 C306.5,464.8 310.3,464.2 312.5,465.0 C314.7,465.8 316.0,467.3 316.9,468.8 C317.8,470.2 318.1,472.7 318.1,473.8 C318.1,474.8 317.8,474.2 316.9,475.0 C316.0,475.8 314.1,478.1 312.5,478.8 C310.9,479.4 309.4,479.4 307.5,479.0 C305.6,478.6 303.3,477.4 301.2,476.2 C299.2,475.1 297.3,473.1 295.0,471.9 C292.7,470.6 290.0,469.8 287.5,468.8 C285.0,467.7 281.9,467.1 280.0,465.6 C278.1,464.1 277.0,462.1 276.2,460.0 C275.5,457.9 275.2,454.8 275.6,453.1 C276.0,451.4 277.4,451.8 278.8,450.0 C280.1,448.2 282.5,445.3 283.8,442.5 C285.0,439.7 286.9,435.4 286.2,433.1 C285.6,430.8 281.7,430.5 280.0,428.8 C278.3,427.0 277.7,424.6 276.2,422.5 C274.8,420.4 272.5,418.3 271.2,416.2 C270.0,414.2 269.1,411.9 268.8,410.0 C268.4,408.1 269.6,407.3 269.4,405.0 C269.2,402.7 268.4,399.0 267.5,396.2 C266.6,393.5 265.2,390.9 263.8,388.8 C262.3,386.6 260.6,384.4 258.8,383.1 C256.9,381.9 254.4,381.4 252.5,381.2 C250.6,381.1 249.6,380.7 247.5,382.0 C245.4,383.3 241.7,386.3 240.0,389.0 C238.3,391.7 237.3,394.8 237.5,398.0 C237.7,401.2 239.6,405.3 241.2,408.0 C242.9,410.7 245.2,412.4 247.5,414.0 C249.8,415.6 253.4,416.1 255.0,417.5 C256.6,418.9 256.6,420.4 256.9,422.5 C257.2,424.6 257.1,427.5 256.9,430.0 C256.7,432.5 255.9,434.8 255.6,437.5 C255.3,440.2 254.9,443.8 255.0,446.2 C255.1,448.8 255.4,450.6 256.2,452.5 C257.1,454.4 258.8,456.4 260.0,457.5 C261.2,458.6 263.3,458.4 263.8,459.4 C264.2,460.4 263.3,462.2 262.5,463.8 C261.7,465.3 260.0,467.4 258.8,468.8 C257.5,470.1 256.8,470.7 255.0,471.9 C253.2,473.1 253.0,477.1 248.0,476.0 C243.0,474.9 233.8,469.3 225.0,465.0 C216.2,460.7 200.8,460.8 195.0,450.0 C189.2,439.2 195.0,411.7 190.0,400.0 C185.0,388.3 170.0,388.3 165.0,380.0 C160.0,371.7 169.2,358.3 160.0,350.0 C150.8,341.7 120.0,335.0 110.0,330.0 C100.0,325.0 111.7,321.7 100.0,320.0 C88.3,318.3 56.7,323.3 40.0,320.0 C23.3,316.7 6.7,320.0 0.0,300.0 C-6.7,280.0 -8.3,228.3 0.0,200.0 C8.3,171.7 34.2,141.7 50.0,130.0 C65.8,118.3 86.2,126.3 95.0,130.0 C103.8,133.7 101.2,147.8 102.5,152.0Z" fill="#e67300"/>
<path d="M348.5,200.0 C348.7,197.5 350.2,195.5 352.2,193.8 C354.3,192.0 358.1,189.7 361.0,189.2 C363.9,188.8 367.0,189.7 369.8,191.2 C372.5,192.8 375.5,195.8 377.2,198.8 C379.0,201.7 380.5,205.8 380.5,208.8 C380.5,211.7 379.2,214.7 377.2,216.2 C375.2,217.8 371.6,218.2 368.5,218.0 C365.4,217.8 361.4,216.5 358.5,215.0 C355.6,213.5 352.7,211.2 351.0,208.8 C349.3,206.2 348.3,202.5 348.5,200.0Z" fill="#e67300"/>
<path d="M318.5,280.8 C320.4,280.0 321.8,279.5 323.5,279.5 C325.2,279.5 327.3,279.7 328.5,280.5 C329.7,281.3 330.6,282.8 330.6,284.5 C330.6,286.2 329.6,288.8 328.5,290.8 C327.4,292.7 325.5,294.3 324.1,296.4 C322.8,298.5 321.3,300.6 320.4,303.2 C319.5,305.9 318.7,309.1 318.5,312.0 C318.3,314.9 318.9,318.0 319.1,320.8 C319.3,323.5 319.9,326.0 319.8,328.2 C319.6,330.5 318.9,332.9 317.9,334.5 C316.9,336.1 315.3,337.5 313.5,338.0 C311.7,338.5 309.3,338.2 307.2,337.6 C305.2,337.0 302.8,336.1 301.0,334.5 C299.2,332.9 297.6,330.8 296.6,328.2 C295.6,325.8 295.0,322.4 295.0,319.5 C295.0,316.6 295.7,313.9 296.6,310.8 C297.5,307.6 298.8,304.1 300.4,300.8 C302.0,297.4 304.0,293.6 306.0,290.8 C308.0,287.9 310.2,285.6 312.2,283.9 C314.3,282.2 316.6,281.5 318.5,280.8Z" fill="#e67300"/>
<path d="M442.9,307.0 C443.1,305.8 444.6,304.4 446.0,303.2 C447.4,302.1 449.6,301.4 451.0,300.1 C452.4,298.9 453.6,297.7 454.1,295.8 C454.6,293.8 453.8,290.1 454.1,288.2 C454.4,286.4 454.9,285.5 456.0,284.5 C457.1,283.5 459.1,282.5 461.0,282.0 C462.9,281.5 465.0,281.0 467.2,281.4 C469.5,281.8 472.8,283.1 474.8,284.5 C476.7,285.9 478.3,287.9 478.8,289.5 C479.2,291.1 478.3,292.3 477.2,293.9 C476.2,295.5 474.1,297.8 472.2,298.9 C470.4,300.0 467.9,300.2 466.0,300.8 C464.1,301.3 462.1,301.0 461.0,302.0 C459.9,303.0 459.9,305.6 459.1,307.0 C458.3,308.4 457.6,309.4 456.0,310.1 C454.4,310.8 451.6,311.3 449.8,311.4 C447.9,311.5 445.9,311.5 444.8,310.8 C443.6,310.0 442.7,308.2 442.9,307.0Z" fill="#e67300"/>
<path d="M367.5,400.0 C368.5,398.4 370.0,398.1 371.2,398.1 C372.5,398.1 374.1,398.9 375.0,400.0 C375.9,401.1 376.7,402.9 376.9,405.0 C377.1,407.1 376.8,410.3 376.2,412.5 C375.7,414.7 374.9,416.9 373.8,418.1 C372.6,419.4 370.9,420.0 369.4,420.0 C367.9,420.0 366.1,419.0 365.0,418.1 C363.9,417.2 363.1,416.2 363.1,414.4 C363.1,412.6 364.3,409.9 365.0,407.5 C365.7,405.1 366.5,401.6 367.5,400.0Z" fill="#e67300"/>
<path d="M108.0,294.0 C109.0,292.2 112.4,295.2 114.0,295.0 C115.6,294.8 114.8,293.5 117.5,292.5 C120.2,291.5 126.2,290.1 130.0,288.8 C133.8,287.4 136.7,284.9 140.0,284.5 C143.3,284.1 147.1,284.9 150.0,286.2 C152.9,287.6 156.7,290.7 157.5,292.5 C158.3,294.3 157.1,296.6 155.0,297.0 C152.9,297.4 147.9,294.9 145.0,295.0 C142.1,295.1 139.3,296.0 137.5,297.5 C135.7,299.0 136.1,302.4 134.0,303.8 C131.9,305.1 128.0,305.3 125.0,305.5 C122.0,305.7 118.8,304.9 116.0,305.0 C113.2,305.1 109.3,307.8 108.0,306.0 C106.7,304.2 107.0,295.8 108.0,294.0Z" fill="#fdd37f"/>
<path d="M13.0,240.0 C12.8,238.4 13.5,232.8 15.0,230.0 C16.5,227.2 18.8,224.9 22.0,223.0 C25.2,221.1 30.3,219.2 34.0,218.5 C37.7,217.8 42.4,216.6 44.0,218.5 C45.6,220.4 44.2,226.5 43.8,229.7 C43.3,232.9 42.7,235.5 41.4,237.5 C40.1,239.5 38.2,241.0 36.0,241.9 C33.8,242.8 30.6,243.1 28.1,243.0 C25.6,242.9 23.0,242.0 21.0,241.4 C19.0,240.8 17.3,239.7 16.0,239.5 C14.7,239.3 13.2,241.6 13.0,240.0Z" fill="#fdd37f"/>
<path d="M56.0,207.0 C58.2,203.2 61.8,201.8 65.0,199.0 C68.2,196.2 71.7,192.4 75.0,190.0 C78.3,187.6 80.8,185.8 85.0,184.5 C89.2,183.2 94.2,182.4 100.0,182.0 C105.8,181.6 113.3,181.5 120.0,182.0 C126.7,182.5 133.3,183.7 140.0,185.0 C146.7,186.3 154.2,188.7 160.0,190.0 C165.8,191.3 170.0,192.7 175.0,193.0 C180.0,193.3 186.5,191.7 190.0,192.0 C193.5,192.3 194.3,193.2 196.0,195.0 C197.7,196.8 199.3,199.6 200.0,202.5 C200.7,205.4 200.4,209.2 200.0,212.5 C199.6,215.8 198.8,218.8 197.5,222.5 C196.2,226.2 194.2,231.2 192.5,235.0 C190.8,238.8 189.2,241.7 187.5,245.0 C185.8,248.3 184.6,252.1 182.5,255.0 C180.4,257.9 177.5,260.4 175.0,262.5 C172.5,264.6 170.0,266.2 167.5,267.5 C165.0,268.8 162.9,268.9 160.0,270.0 C157.1,271.1 153.3,273.2 150.0,274.0 C146.7,274.8 143.3,274.4 140.0,275.0 C136.7,275.6 133.3,276.5 130.0,277.5 C126.7,278.5 123.3,279.9 120.0,281.0 C116.7,282.1 113.3,283.5 110.0,284.0 C106.7,284.5 103.8,284.5 100.0,284.0 C96.2,283.5 91.7,282.3 87.5,281.0 C83.3,279.7 78.3,277.8 75.0,276.0 C71.7,274.2 70.0,272.2 67.5,270.0 C65.0,267.8 62.2,265.4 60.0,262.5 C57.8,259.6 55.7,255.8 54.0,252.5 C52.3,249.2 50.7,245.8 50.0,242.5 C49.3,239.2 49.7,235.9 50.0,232.5 C50.3,229.1 51.0,226.2 52.0,222.0 C53.0,217.8 53.8,210.8 56.0,207.0Z" fill="#e60000"/>
<path d="M82.5,226.0 C83.4,224.2 83.9,222.2 86.0,220.0 C88.1,217.8 91.8,214.8 95.0,212.5 C98.2,210.2 101.2,207.8 105.0,206.0 C108.8,204.2 112.5,203.0 117.5,202.0 C122.5,201.0 128.8,200.5 135.0,200.0 C141.2,199.5 149.2,199.3 155.0,199.0 C160.8,198.7 166.3,197.7 170.0,198.0 C173.7,198.3 175.7,199.4 177.0,201.0 C178.3,202.6 178.5,205.0 178.0,207.5 C177.5,210.0 176.2,213.8 174.0,216.0 C171.8,218.2 168.6,219.3 165.0,221.0 C161.4,222.7 156.7,224.5 152.5,226.0 C148.3,227.5 143.8,228.5 140.0,230.0 C136.2,231.5 132.5,232.9 130.0,235.0 C127.5,237.1 126.7,240.0 125.0,242.5 C123.3,245.0 122.1,248.1 120.0,250.0 C117.9,251.9 115.4,253.8 112.5,254.0 C109.6,254.2 105.8,252.5 102.5,251.0 C99.2,249.5 95.6,247.2 92.5,245.0 C89.4,242.8 86.0,239.8 84.0,237.5 C82.0,235.2 80.8,232.9 80.5,231.0 C80.2,229.1 81.6,227.8 82.5,226.0Z" fill="#730000"/>
</g>
<path d="M130.0,144.0 L132.0,142.5 L135.6,139.5 L137.5,137.5 L140.2,137.7 L142.5,139.7 L145.0,140.0 L145.3,143.1 L147.5,145.6 L148.7,147.4 L149.0,150.0 L149.0,152.5 L149.7,156.7 L149.1,159.2 L150.0,162.5 L151.1,165.2 L152.1,168.5 L152.5,172.5 L153.7,174.6 L156.7,177.3 L158.0,179.0 L160.0,181.0 L162.5,185.0 L162.1,182.3 L162.7,178.5 L162.5,175.0 L165.7,172.5 L167.5,171.0 L170.7,172.1 L172.5,174.0 L174.5,172.0 L177.5,170.0 L178.5,167.0 L180.0,164.9 L181.0,162.5 L184.7,162.8 L187.3,162.6 L189.6,161.9 L192.9,161.7 L196.0,161.0 L195.9,158.3 L196.6,155.0 L196.6,151.8 L196.0,149.0" fill="none" stroke="#2a261f" stroke-width="0.7" stroke-linejoin="round" opacity="0.9"/>
<path d="M196.0,161.0 L196.9,164.4 L196.5,166.8 L197.5,170.0 L199.2,173.0 L202.0,174.4 L203.9,176.9 L205.0,179.0 L206.9,181.4 L210.3,182.3 L212.6,184.6 L215.0,186.0 L218.1,187.5 L220.2,188.8 L222.1,189.2 L225.0,191.0 L228.5,191.4 L231.0,191.0 L229.6,194.3 L228.8,196.0 L228.3,198.6 L227.2,202.1 L225.8,204.3 L225.0,207.5 L222.9,210.2 L222.0,212.5 L221.0,215.7 L219.0,218.1 L218.0,219.6 L217.0,222.7 L215.4,224.6 L213.9,227.0 L212.5,230.0 L210.4,232.9 L208.8,234.3 L208.1,238.0 L207.0,239.7 L205.0,242.5 L204.8,245.4 L204.7,248.9 L203.6,252.0 L203.8,254.6 L203.0,257.4 L202.5,260.0 L202.2,263.6 L201.6,267.4 L202.0,270.0 L202.7,273.4 L202.5,276.0" fill="none" stroke="#2a261f" stroke-width="0.7" stroke-linejoin="round" opacity="0.9"/>
<path d="M5.0,255.0 L8.2,256.2 L9.6,256.5 L12.6,257.5 L14.5,258.5 L17.9,260.4 L19.7,260.8 L23.0,261.5 L25.0,262.5 L27.4,262.8 L29.9,263.5 L33.0,265.3 L36.2,264.9 L38.3,266.9 L41.3,267.6 L44.4,268.2 L47.1,268.0 L50.1,269.2 L52.5,270.0 L54.8,270.6 L56.8,271.8 L60.6,273.3 L62.7,274.9 L64.5,275.3 L67.3,277.2 L69.9,277.2 L72.2,278.8 L75.7,279.7 L77.7,281.8 L79.9,282.1 L82.3,283.7 L85.3,285.0 L87.3,285.7 L89.5,286.8 L93.0,287.2 L95.0,289.0 L96.8,287.5 L100.0,285.0 L103.5,285.2 L106.6,284.6 L110.0,284.0 L113.2,282.0 L114.8,280.9 L117.5,280.0 L120.6,279.9 L124.2,278.7 L126.5,277.6 L130.0,277.5 L131.3,274.8 L133.9,271.8 L135.0,270.0 L137.5,266.0 L140.3,265.3 L143.7,265.5 L147.5,266.0 L150.0,270.0 L152.2,271.4 L155.4,272.8 L157.4,275.1 L160.0,276.0 L162.7,276.0 L165.3,276.0 L168.0,276.0 L170.6,276.0 L173.3,276.0 L175.9,276.0 L178.6,276.0 L181.2,276.0 L183.9,276.0 L186.6,276.0 L189.2,276.0 L191.9,276.0 L194.5,276.0 L197.2,276.0 L199.8,276.0 L202.5,276.0" fill="none" stroke="#2a261f" stroke-width="0.7" stroke-linejoin="round" opacity="0.9"/>
<path d="M161.0,276.0 L161.9,279.0 L161.5,282.1 L161.0,284.8 L160.9,287.5 L161.5,290.5 L161.3,293.5 L161.7,296.2 L161.7,299.0 L162.4,300.9 L162.5,304.0 L164.7,304.2 L168.1,304.7 L170.8,304.7 L174.7,304.7 L177.8,304.7 L180.0,305.0 L181.3,307.5 L182.3,311.0 L182.3,313.9 L183.7,316.7 L184.0,320.0 L183.1,322.9 L182.3,325.2 L181.6,326.8 L180.8,329.9 L180.4,333.2 L179.0,335.0 L175.0,337.5" fill="none" stroke="#2a261f" stroke-width="0.7" stroke-linejoin="round" opacity="0.9"/>
<path d="M202.5,270.0 L205.6,270.3 L208.8,272.3 L212.5,272.5 L213.7,273.8 L215.6,276.9 L217.9,278.2 L220.0,280.0 L222.5,280.5 L224.5,281.4 L227.0,283.4 L230.0,283.6 L232.5,285.0 L234.9,285.0 L238.4,284.9 L240.8,285.8 L242.7,284.9 L245.5,286.0 L248.2,285.6 L251.0,286.3 L253.5,285.5 L256.0,286.0 L258.8,286.3 L261.9,286.4 L263.9,286.5 L267.8,287.3 L270.4,286.6 L272.4,286.4 L274.7,287.2 L278.7,287.2 L281.0,287.6 L284.4,287.2 L287.0,288.2 L289.0,288.5 L291.7,288.1 L294.2,288.4 L298.0,288.7 L301.0,289.8 L303.9,290.0 L306.0,289.5" fill="none" stroke="#2a261f" stroke-width="0.7" stroke-linejoin="round" opacity="0.9"/>
<path d="M326.1,232.0 L329.2,233.0 L331.6,234.4 L331.7,236.7 L331.2,240.1 L330.0,242.2 L328.3,244.4 L326.2,247.7 L323.8,250.0 L321.5,252.4 L321.1,254.9 L319.0,256.2 L318.5,259.7 L317.5,262.0 L315.6,265.8 L315.2,268.8 L314.0,270.8 L311.9,273.1 L310.9,275.7 L309.7,278.1 L309.3,281.4 L307.1,283.8 L307.5,285.9 L305.8,289.0 L305.7,291.4 L304.0,294.3 L303.6,296.1 L302.1,298.6 L301.9,301.6 L300.7,303.9 L301.4,306.4 L299.7,310.4 L299.5,312.5 L300.5,315.4 L300.5,317.6 L300.8,320.3 L301.1,323.4 L300.8,326.4 L301.1,328.3 L300.5,331.8 L300.3,334.4 L299.0,337.3 L298.3,340.0 L297.9,343.4 L297.8,346.3 L296.7,349.4 L295.3,350.8 L293.6,353.0 L291.8,355.8 L289.7,357.2 L287.0,359.2 L285.0,361.9 L283.4,365.0 L280.3,367.3 L277.9,368.5 L275.6,371.2 L275.1,374.1 L273.8,376.4 L271.4,377.5 L270.9,380.6 L270.0,382.9 L269.6,385.4 L267.8,388.4 L268.5,391.8 L269.4,394.7 L270.9,397.8" fill="none" stroke="#2a261f" stroke-width="0.7" stroke-linejoin="round" opacity="0.9"/>
<path d="M358.9,178.1 L358.1,180.7 L357.1,184.4 L357.3,187.5 L355.3,190.4 L354.5,193.9 L353.4,196.9 L352.4,198.8 L351.3,202.6 L350.3,204.7 L349.7,207.3 L347.6,209.9 L347.5,212.4 L345.6,214.0 L344.4,215.5 L342.9,217.5 L340.9,220.3 L337.7,221.7 L335.1,225.2 L333.1,226.6 L330.7,228.4 L329.0,230.0 L326.1,232.0" fill="none" stroke="#2a261f" stroke-width="0.7" stroke-linejoin="round" opacity="0.9"/>
<path d="M326.1,232.0 L329.3,231.5 L332.5,231.2 L334.7,231.2 L338.1,233.3 L340.2,234.4 L341.1,236.6 L341.6,239.9 L341.7,242.2 L340.5,245.2 L341.2,248.1 L340.2,250.0 L339.6,253.7 L338.6,256.2 L339.7,259.3 L342.4,261.1 L344.1,264.0 L346.1,264.2 L349.1,265.0 L351.9,265.6 L352.3,268.8 L350.7,271.0 L351.1,273.4 L349.9,275.8 L347.2,278.9 L349.2,281.1 L349.5,283.8 L351.1,285.9 L353.2,288.6 L355.0,292.2 L357.0,292.4 L359.6,293.3 L362.8,294.5" fill="none" stroke="#2a261f" stroke-width="0.7" stroke-linejoin="round" opacity="0.9"/>
<path d="M362.8,294.5 L360.7,297.3 L358.1,300.0 L356.5,302.6 L354.0,304.7 L352.7,307.8 L354.6,309.6 L356.6,312.5 L356.7,315.8 L356.6,318.2 L356.6,320.3 L356.6,324.1 L357.2,327.0 L357.3,329.7 L357.3,332.9 L358.5,334.4 L358.1,337.5 L358.0,340.4 L359.7,343.3 L359.7,346.9 L359.5,350.1 L359.7,353.1 L357.0,353.3 L353.4,354.7 L350.5,355.5 L348.8,357.8 L347.5,357.2 L348.6,359.4 L349.0,363.1 L349.1,365.0 L346.1,366.5 L342.8,368.1" fill="none" stroke="#2a261f" stroke-width="0.7" stroke-linejoin="round" opacity="0.9"/>
<path d="M357.3,329.7 L354.6,330.5 L350.9,330.3 L347.2,330.5 L344.8,331.8 L341.3,333.4 L339.4,334.4 L336.9,332.7 L332.5,331.9 L330.0,331.2 L328.1,329.7 L325.3,329.2 L322.2,327.3 L319.6,329.2 L317.5,332.0 L313.7,331.0 L311.2,329.7 L308.8,327.6 L305.0,326.6 L305.8,322.7 L303.8,323.3 L301.1,325.0" fill="none" stroke="#2a261f" stroke-width="0.7" stroke-linejoin="round" opacity="0.9"/>
<path d="M413.5,201.2 L412.2,203.5 L410.4,206.2 L407.5,207.1 L404.8,208.8 L403.5,211.6 L401.0,215.0 L399.8,217.6 L399.9,219.4 L398.5,222.5 L399.3,224.9 L399.0,228.2 L399.1,231.2 L398.7,235.0 L397.2,238.8 L399.0,242.6 L399.8,245.0 L398.9,247.2 L397.2,250.0 L394.4,250.0 L392.1,250.3 L388.5,251.2 L385.8,253.1 L382.2,255.0 L379.0,256.6 L376.0,258.8 L373.5,260.2 L370.3,261.1 L367.5,262.5 L365.8,265.6 L365.2,268.3 L363.6,270.3 L362.9,274.0 L361.9,276.0 L361.2,279.7 L362.0,283.5 L361.7,285.7 L362.0,289.0 L362.3,291.9 L362.8,294.5" fill="none" stroke="#2a261f" stroke-width="0.7" stroke-linejoin="round" opacity="0.9"/>
<path d="M419.1,201.9 L420.0,205.0 L419.5,207.5 L419.5,210.6 L420.4,212.5 L421.2,215.6 L422.4,218.8 L422.6,222.3 L422.9,225.0 L424.0,228.4 L424.8,231.8 L425.6,234.5 L426.0,237.5 L427.0,241.5 L426.3,244.2 L427.2,247.5 L429.3,249.5 L431.0,252.5 L430.0,255.1 L430.4,258.1 L427.9,262.5 L429.1,267.5 L426.9,268.8 L424.7,271.5 L422.6,273.3 L421.4,275.8" fill="none" stroke="#2a261f" stroke-width="0.7" stroke-linejoin="round" opacity="0.9"/>
<path d="M362.8,294.5 L365.4,297.3 L367.5,300.0 L370.8,301.2 L373.8,302.3 L376.4,300.3 L380.0,299.2 L383.1,297.5 L386.2,296.9 L387.9,294.5 L389.4,290.6 L387.8,285.9 L391.7,282.8 L394.6,284.3 L397.2,285.5 L400.3,285.9 L403.1,285.1 L405.3,283.9 L408.1,282.0 L411.4,280.7 L412.6,280.2 L415.9,279.7 L419.2,277.2 L421.4,275.8" fill="none" stroke="#2a261f" stroke-width="0.7" stroke-linejoin="round" opacity="0.9"/>
<path d="M421.4,275.8 L423.9,276.5 L426.0,278.2 L427.7,281.6 L428.5,284.5 L431.2,282.2 L433.4,281.0 L434.8,279.5 L437.3,278.0 L439.1,276.5 L441.3,275.1 L443.5,273.2 L446.1,273.8 L448.0,275.7 L451.0,276.4 L454.2,277.7 L456.0,278.2 L459.1,282.0 L461.0,279.4 L463.5,278.2 L466.5,279.1 L468.6,279.7 L471.0,280.8 L473.4,281.9 L476.8,282.5 L479.8,282.6 L483.5,280.1 L486.0,278.9 L489.9,277.6 L493.5,277.0 L497.2,277.6" fill="none" stroke="#2a261f" stroke-width="0.7" stroke-linejoin="round" opacity="0.9"/>
<path d="M470.4,226.2 L468.6,227.7 L466.0,230.0 L464.3,232.8 L462.2,236.2 L460.7,237.7 L458.8,240.4 L457.2,242.5 L454.8,245.0" fill="none" stroke="#2a261f" stroke-width="0.7" stroke-linejoin="round" opacity="0.9"/>
<path d="M454.8,245.0 L453.7,248.5 L453.5,252.5 L453.5,256.4 L454.8,260.0 L452.2,261.1 L451.0,263.8 L447.2,261.2 L443.7,260.2 L441.0,258.1 L437.9,258.2 L434.6,257.7 L431.0,258.1" fill="none" stroke="#2a261f" stroke-width="0.7" stroke-linejoin="round" opacity="0.9"/>
<path d="M454.8,245.0 L457.4,245.3 L461.0,246.2 L462.9,245.2 L465.4,243.0 L468.5,242.5 L472.2,241.9 L470.6,245.8 L469.8,248.8 L472.4,250.1 L474.8,251.2 L479.8,251.2 L481.2,247.7 L482.2,245.0 L485.5,245.4 L488.5,246.2 L490.6,246.3 L493.6,246.8 L496.3,246.5 L499.8,246.9" fill="none" stroke="#2a261f" stroke-width="0.7" stroke-linejoin="round" opacity="0.9"/>
<path d="M454.8,260.0 L458.1,261.5 L461.0,262.5 L463.9,261.0 L465.9,260.3 L468.5,260.0 L470.9,259.0 L473.5,258.1 L471.8,262.3 L471.0,265.0 L472.4,266.8 L474.8,268.8 L477.6,267.4 L480.2,266.3 L482.2,265.0 L484.5,264.5 L487.5,262.7 L491.0,261.2 L494.1,261.0 L496.7,259.8 L498.5,258.8 L501.6,260.0" fill="none" stroke="#2a261f" stroke-width="0.7" stroke-linejoin="round" opacity="0.9"/>
<path d="M459.1,282.0 L462.2,285.8 L464.6,286.6 L467.8,287.7 L469.1,289.4 L472.2,290.8 L475.2,292.4 L478.5,295.1 L482.2,297.0" fill="none" stroke="#2a261f" stroke-width="0.7" stroke-linejoin="round" opacity="0.9"/>
<path d="M462.2,285.8 L463.0,288.3 L463.5,292.0 L464.8,297.0 L462.2,300.8 L458.5,302.6 L461.0,307.0 L463.4,308.6 L464.8,311.4 L468.5,311.4" fill="none" stroke="#2a261f" stroke-width="0.7" stroke-linejoin="round" opacity="0.9"/>
<path d="M360.0,355.6 L362.8,353.8 L365.0,352.5 L367.2,352.6 L369.4,350.9 L371.7,350.4 L373.5,348.8 L376.9,347.6 L378.8,346.2 L380.9,346.7 L384.2,345.9 L386.6,346.2 L389.6,348.9 L392.8,350.9 L395.7,351.2 L397.3,351.9 L400.6,352.5 L403.5,353.0 L405.2,355.0 L407.1,356.6 L410.0,357.2 L413.2,359.4 L415.7,359.8 L417.2,361.9 L420.0,363.4 L423.8,364.6 L426.3,365.4 L430.0,366.0 L433.2,368.1 L436.0,370.0 L437.5,373.1 L438.0,375.0 L435.5,376.1 L434.0,378.0 L432.0,380.0 L431.3,382.7 L429.3,385.2 L428.0,388.0 L425.7,389.5 L424.0,392.0 L423.2,394.5 L422.0,398.0 L421.1,400.8 L420.0,404.0 L421.7,406.8 L423.0,410.0 L421.4,412.4 L420.0,415.0 L416.2,418.1 L414.9,421.0 L413.1,424.4 L413.5,427.0 L413.1,429.4 L413.9,432.2 L412.4,434.0 L409.2,436.4 L407.1,437.8 L405.3,440.0 L403.3,440.7 L399.6,442.0 L397.9,442.5 L394.9,443.6 L392.8,444.7 L390.4,445.6 L387.9,446.6 L384.2,448.0 L381.9,449.4 L378.7,449.9 L375.9,450.4 L372.5,452.0 L374.6,454.1 L377.0,455.5 L380.0,459.5" fill="none" stroke="#2a261f" stroke-width="0.7" stroke-linejoin="round" opacity="0.9"/>
<path d="M438.0,375.0 L442.1,375.1 L445.4,376.0 L448.0,376.0" fill="none" stroke="#2a261f" stroke-width="0.7" stroke-linejoin="round" opacity="0.9"/>
<path d="M413.9,432.2 L417.4,434.4 L420.0,436.0 L424.0,438.0" fill="none" stroke="#2a261f" stroke-width="0.7" stroke-linejoin="round" opacity="0.9"/>
<path d="M297.5,411.9 L298.6,409.1 L299.9,407.0 L302.2,405.6 L304.6,402.9 L306.9,401.7 L310.8,401.1 L312.4,400.4 L316.2,399.4 L318.8,399.3 L321.0,397.5 L323.9,398.2 L327.2,397.0 L330.4,397.8 L333.0,398.8 L336.6,399.4 L339.6,398.3 L341.9,396.2 L343.6,393.9 L342.4,390.6 L341.2,386.9 L343.8,383.2 L345.2,380.6 L344.1,378.2 L342.0,374.4 L342.2,370.7 L342.8,368.1" fill="none" stroke="#2a261f" stroke-width="0.7" stroke-linejoin="round" opacity="0.9"/>
<path d="M332.0,361.0 L335.0,361.4 L337.6,361.0 L340.8,360.5 L343.0,361.0 L343.6,365.4 L343.0,368.5 L340.6,368.8 L338.2,367.8 L335.0,368.0 L332.0,368.5 L332.5,364.6 L332.0,361.0" fill="none" stroke="#2a261f" stroke-width="0.7" stroke-linejoin="round" opacity="0.9"/>
<path d="M212.5,390.0 L215.3,389.1 L217.0,388.4 L220.4,387.5 L222.7,385.3 L225.0,385.0 L228.1,383.4 L229.7,383.3 L232.5,382.5 L235.6,384.1 L237.9,385.1 L240.0,387.5 L243.1,387.2 L247.1,385.1 L250.0,385.0 L253.1,386.3 L256.0,387.5 L258.5,389.9 L260.0,392.3 L263.5,392.1 L266.2,393.1 L269.3,396.1 L270.9,397.8 L273.6,399.2 L277.2,401.7 L279.2,403.1 L281.9,403.8 L284.7,406.1 L286.6,407.2 L288.6,408.0 L291.4,409.6 L295.1,410.9 L297.5,411.9" fill="none" stroke="#2a261f" stroke-width="0.7" stroke-linejoin="round" opacity="0.9"/>
<path d="M297.5,411.9 L296.3,414.3 L295.9,418.1 L293.7,419.8 L292.8,422.1 L292.0,425.3 L289.7,427.5 L287.4,430.2 L286.4,433.0 L285.0,435.0 L282.4,436.8 L280.7,440.6 L279.4,442.5 L277.5,445.0 L275.2,447.1 L274.4,449.4 L272.5,451.1 L270.0,452.5 L268.0,454.7 L266.5,456.0 L264.5,459.2 L261.8,460.0 L260.0,462.5 L259.1,466.0 L257.5,469.0" fill="none" stroke="#2a261f" stroke-width="0.7" stroke-linejoin="round" opacity="0.9"/>
<path d="M296.7,416.6 L299.4,416.2 L303.8,416.3 L306.9,416.6 L309.5,416.9 L312.1,418.6 L315.0,419.1 L317.8,419.7 L320.8,420.8 L322.5,422.0 L325.5,421.2 L327.4,420.2 L330.3,419.7 L333.6,419.0 L335.5,418.4 L337.8,418.1 L341.2,418.1 L343.8,420.7 L345.2,424.4 L345.5,427.2 L346.2,430.1 L347.5,433.8 L350.0,435.6 L352.3,437.4 L353.8,440.0 L353.5,442.7 L352.2,446.2 L355.2,448.7 L356.9,452.0 L360.2,453.0 L364.0,453.5 L366.6,452.8 L370.1,452.2 L372.5,452.0" fill="none" stroke="#2a261f" stroke-width="0.7" stroke-linejoin="round" opacity="0.9"/>
<path d="M280.0,451.2 L282.8,451.4 L285.3,452.0 L288.9,452.5 L292.2,451.7 L295.0,452.5 L297.7,452.9 L299.8,454.9 L301.8,455.5 L304.7,456.1 L308.0,456.5 L310.0,457.5 L310.6,460.0 L312.3,462.0 L313.4,464.3 L313.8,467.5 L315.2,469.7 L315.1,473.7 L316.0,476.3 L317.5,478.8 L321.1,478.4 L323.1,479.4 L326.2,480.0 L328.9,482.4 L330.3,483.8 L332.5,486.2" fill="none" stroke="#2a261f" stroke-width="0.7" stroke-linejoin="round" opacity="0.9"/>
<path d="M261.2,497.5 L263.6,499.0 L266.9,498.5 L270.0,500.0 L273.2,499.9 L276.9,500.5 L278.8,500.3 L282.5,501.2 L285.8,500.2 L288.5,500.9 L292.5,500.0 L295.0,498.5 L296.9,497.2 L300.0,495.0 L303.1,495.7 L307.3,496.4 L310.0,496.2 L313.1,496.0 L317.0,496.1 L320.0,495.0 L323.3,496.3 L326.2,497.5" fill="none" stroke="#2a261f" stroke-width="0.7" stroke-linejoin="round" opacity="0.9"/>
<path d="M261.2,508.8 L264.2,508.5 L266.2,508.7 L270.2,509.4 L272.5,508.8 L276.0,509.9 L279.3,509.8 L281.7,510.3 L285.0,511.2 L287.9,512.7 L290.2,513.8 L292.7,514.8 L295.0,516.2 L297.0,518.6 L300.2,521.1 L302.5,522.5 L305.0,523.7 L307.6,525.3 L310.0,527.5 L312.5,530.0" fill="none" stroke="#2a261f" stroke-width="0.7" stroke-linejoin="round" opacity="0.9"/>
<path d="M247.9,133.8 L248.5,138.8 L252.2,141.3 L254.8,143.1 L257.8,144.4 L260.1,146.8 L262.2,147.5 L263.7,150.3 L266.0,152.5 L266.8,155.3 L268.8,157.8 L269.1,160.0 L271.1,162.6 L272.2,166.2 L274.3,169.5 L276.0,171.2 L277.3,174.8 L278.5,177.5 L282.9,180.0 L287.2,177.5 L288.5,172.5 L289.8,170.0 L292.2,167.5 L294.9,166.4 L296.0,164.0 L298.5,162.5 L300.9,160.3 L303.5,157.5 L307.2,155.6" fill="none" stroke="#2a261f" stroke-width="0.7" stroke-linejoin="round" opacity="0.9"/>
<path d="M336.0,172.0 L340.0,173.5 L343.0,172.5 L347.0,174.5 L350.0,174.0 L353.0,176.5 L356.0,176.0 L359.0,178.5 L362.0,178.5 L364.0,181.0 L367.0,180.5 L369.0,182.0 L371.0,180.5 L373.5,182.0 L375.0,184.0 L376.0,183.5 L378.0,187.0 L379.0,188.0" fill="none" stroke="#222" stroke-width="1.5" stroke-linejoin="round"/>
<use href="#bzo" fill="none" stroke="#333" stroke-width="0.7"/>
<path d="M207.5,245.0 C208.1,241.8 210.4,237.9 212.5,235.0 C214.6,232.1 216.7,229.8 220.0,227.5 C223.3,225.2 227.5,222.2 232.5,221.0 C237.5,219.8 246.1,220.2 250.0,220.0 C253.9,219.8 253.3,218.9 256.0,219.5 C258.7,220.1 262.7,221.6 266.0,223.8 C269.3,225.9 273.1,229.4 276.0,232.5 C278.9,235.6 281.2,239.0 283.5,242.5 C285.8,246.0 287.7,250.3 289.8,253.8 C291.8,257.2 294.2,260.6 296.0,263.0 C297.8,265.4 299.2,266.1 300.4,268.2 C301.6,270.4 302.8,273.0 303.2,275.8 C303.7,278.5 303.6,281.4 302.9,284.5 C302.2,287.6 300.7,291.0 299.1,294.5 C297.5,298.0 295.5,302.2 293.5,305.8 C291.5,309.3 289.5,312.8 287.2,315.8 C285.0,318.7 282.9,321.3 279.8,323.2 C276.6,325.2 271.2,326.6 268.5,327.6 C265.8,328.6 265.8,329.0 263.4,329.5 C261.0,330.0 256.6,331.2 254.0,330.8 C251.4,330.3 249.9,328.9 247.8,326.8 C245.7,324.7 243.4,321.5 241.6,318.2 C239.8,315.0 237.9,310.7 236.9,307.3 C235.9,303.9 236.2,301.6 235.8,298.0 C235.4,294.4 235.9,289.3 234.5,285.4 C233.1,281.5 229.8,277.6 227.5,274.5 C225.2,271.4 223.1,268.6 221.0,266.5 C218.9,264.4 217.0,264.1 215.0,262.0 C213.0,259.9 210.2,256.8 209.0,254.0 C207.8,251.2 206.9,248.2 207.5,245.0Z" fill="none" stroke="#111" stroke-width="1.15" stroke-linejoin="round"/>
<path d="M272.0,136.0 C272.5,138.3 273.9,145.6 275.0,150.0 C276.1,154.4 277.1,159.2 278.5,162.5 C279.9,165.8 281.0,168.1 283.5,169.5 C286.0,170.9 289.8,171.0 293.5,171.0 C297.2,171.0 303.4,170.5 306.0,169.5 C308.6,168.5 308.3,166.4 309.0,165.0 C309.7,163.6 309.8,161.7 310.0,161.0" fill="none" stroke="#111" stroke-width="1.15" stroke-linejoin="round"/>
<path d="M317.0,165.0 C317.2,166.7 317.8,171.2 318.5,175.0 C319.2,178.8 319.8,183.8 321.5,187.5 C323.2,191.2 326.1,194.2 328.5,197.5 C330.9,200.8 333.9,204.2 336.0,207.5 C338.1,210.8 340.0,213.8 341.0,217.5 C342.0,221.2 341.3,226.2 342.0,230.0 C342.7,233.8 343.7,236.8 345.0,240.0 C346.3,243.2 347.8,246.5 350.0,249.0 C352.2,251.5 355.4,252.8 358.5,255.0 C361.6,257.2 365.6,259.8 368.5,262.0 C371.4,264.2 373.9,265.8 376.0,268.2 C378.1,270.8 379.5,273.4 381.0,277.0 C382.5,280.6 384.0,285.3 385.0,290.0 C386.0,294.7 386.0,300.0 387.0,305.0 C388.0,310.0 390.0,315.0 391.0,320.0 C392.0,325.0 392.8,331.7 393.0,335.0 C393.2,338.3 392.8,338.3 392.5,340.0 C392.2,341.7 392.3,343.3 391.2,345.0 C390.2,346.7 388.5,348.3 386.2,350.0 C384.0,351.7 380.6,353.4 377.5,355.0 C374.4,356.6 370.3,357.9 367.5,359.4 C364.7,360.9 362.1,362.3 360.6,363.8 C359.1,365.2 358.8,366.4 358.8,368.1 C358.8,369.8 359.4,371.8 360.6,373.8 C361.9,375.7 363.9,378.1 366.2,380.0 C368.6,381.9 372.1,383.4 375.0,385.0 C377.9,386.6 381.0,387.9 383.8,389.4 C386.5,390.9 389.3,392.1 391.2,393.8 C393.2,395.4 394.6,397.3 395.6,399.4 C396.6,401.5 397.4,404.1 397.5,406.2 C397.6,408.4 397.3,410.5 396.2,412.5 C395.2,414.5 393.3,416.5 391.2,418.1 C389.2,419.7 386.2,421.1 383.8,421.9 C381.2,422.7 378.8,422.6 376.2,423.1 C373.8,423.6 370.8,423.9 368.8,425.0 C366.7,426.1 365.2,428.5 363.8,430.0 C362.3,431.5 361.7,431.9 360.0,433.8 C358.3,435.6 355.8,439.0 353.8,441.2 C351.7,443.5 350.0,445.2 347.5,447.5 C345.0,449.8 341.7,452.5 338.8,455.0 C335.8,457.5 332.7,460.0 330.0,462.5 C327.3,465.0 324.6,467.9 322.5,470.0 C320.4,472.1 319.2,473.5 317.5,475.0 C315.8,476.5 314.2,478.1 312.5,478.8 C310.8,479.4 309.4,479.4 307.5,479.0 C305.6,478.6 303.3,477.4 301.2,476.2 C299.2,475.1 297.3,473.1 295.0,471.9 C292.7,470.6 290.0,469.8 287.5,468.8 C285.0,467.7 281.9,467.1 280.0,465.6 C278.1,464.1 277.1,462.4 276.2,460.0 C275.4,457.6 275.6,454.2 275.0,451.2 C274.4,448.3 273.4,445.3 272.5,442.5 C271.6,439.7 270.6,436.5 269.4,434.4 C268.1,432.3 266.6,430.8 265.0,430.0 C263.4,429.2 261.4,429.0 260.0,429.4 C258.6,429.8 257.6,430.9 256.9,432.5 C256.2,434.1 255.9,436.2 255.6,438.8 C255.3,441.2 254.9,445.0 255.0,447.5 C255.1,450.0 255.4,452.2 256.2,453.8 C257.1,455.3 258.6,456.1 260.0,456.9 C261.4,457.7 263.9,457.8 264.4,458.8 C264.9,459.7 264.0,460.8 263.1,462.5 C262.2,464.2 260.1,467.2 258.8,468.8 C257.4,470.3 255.6,471.4 255.0,471.9" fill="none" stroke="#111" stroke-width="1.15" stroke-linejoin="round"/>
<path d="M332.2,338.0 C334.3,337.9 336.6,338.8 338.5,340.1 C340.4,341.4 342.1,343.9 343.5,346.0 C344.9,348.1 346.9,350.3 347.0,353.0 C347.1,355.7 345.2,359.4 344.0,362.0 C342.8,364.6 341.3,367.3 340.0,368.8 C338.7,370.2 337.7,370.9 336.2,370.6 C334.8,370.3 333.0,368.9 331.2,366.9 C329.5,364.9 327.1,361.1 325.6,358.8 C324.1,356.4 323.0,354.5 322.5,352.5 C322.0,350.5 321.9,349.0 322.5,347.0 C323.1,345.0 324.4,342.2 326.0,340.8 C327.6,339.2 330.2,338.1 332.2,338.0Z" fill="none" stroke="#111" stroke-width="1.15" stroke-linejoin="round"/>
<path d="M247.5,382.0 C249.6,380.7 250.6,381.1 252.5,381.2 C254.4,381.4 256.9,381.9 258.8,383.1 C260.6,384.4 262.3,386.6 263.8,388.8 C265.2,390.9 266.6,393.5 267.5,396.2 C268.4,399.0 269.3,402.3 269.4,405.0 C269.5,407.7 269.0,410.3 268.1,412.5 C267.2,414.7 265.7,417.3 263.8,418.1 C261.8,418.9 259.0,418.2 256.2,417.5 C253.5,416.8 250.0,415.6 247.5,414.0 C245.0,412.4 242.9,410.7 241.2,408.0 C239.6,405.3 237.7,401.2 237.5,398.0 C237.3,394.8 238.3,391.7 240.0,389.0 C241.7,386.3 245.4,383.3 247.5,382.0Z" fill="none" stroke="#111" stroke-width="1.15" stroke-linejoin="round"/>
<path d="M448.8,373.8 C447.3,373.7 442.7,373.2 440.0,373.5 C437.3,373.8 434.8,374.3 432.5,375.6 C430.2,376.9 428.1,378.9 426.2,381.2 C424.4,383.6 422.5,387.1 421.2,390.0 C420.0,392.9 419.1,395.8 418.8,398.8 C418.4,401.7 418.8,404.8 419.4,407.5 C420.0,410.2 421.1,413.0 422.5,415.0 C423.9,417.0 425.6,418.5 427.5,419.4 C429.4,420.3 432.7,420.4 433.8,420.6" fill="none" stroke="#111" stroke-width="1.15" stroke-linejoin="round"/>
<text transform="translate(134,168.5) scale(0.87,1)" class="lb">CL</text>
<text transform="translate(61,276.2) scale(0.87,1)" class="lb">CL</text>
<text transform="translate(296,152) scale(0.87,1)" class="lb">C</text>
<text transform="translate(281,221) scale(0.87,1)" class="lb">CL</text>
<text transform="translate(388,225.5) scale(0.87,1)" class="lb">C</text>
<text transform="translate(254.5,274) scale(0.87,1)" class="lb">C</text>
<text transform="translate(339.5,306) scale(0.87,1)" class="lb">CL</text>
<text transform="translate(209,346.5) scale(0.87,1)" class="lb">CL</text>
<text transform="translate(336,356) scale(0.87,1)" class="lb">C</text>
<text transform="translate(433,331) scale(0.87,1)" class="lb">C</text>
<text transform="translate(299,398) scale(0.87,1)" class="lb">CL</text>
<text transform="translate(254.5,409) scale(0.87,1)" class="lb">C</text>
<text transform="translate(432,401.5) scale(0.87,1)" class="lb">L</text>
<text transform="translate(380.5,440.5) scale(0.87,1)" class="lb">C</text>
<text transform="translate(296,485.2) scale(0.87,1)" class="lb">C</text>
<text transform="translate(307.5,517.2) scale(0.87,1)" class="lb">C</text>
</g>
<rect x="505" y="0" width="7" height="720" fill="#000"/>
<text x="254.4" y="40" class="ti" textLength="234.6" lengthAdjust="spacingAndGlyphs">Monitor de Secas</text>
<text x="253.8" y="76.7" class="ti" textLength="199" lengthAdjust="spacingAndGlyphs">Outubro/2024</text>
<text x="770.1" y="40" class="ti" textLength="233.8" lengthAdjust="spacingAndGlyphs">Monitor de Secas</text>
<text x="770.8" y="76.7" class="ti" textLength="228.8" lengthAdjust="spacingAndGlyphs">Novembro/2024</text>
<text x="50.5" y="666" class="el" textLength="139.3" lengthAdjust="spacingAndGlyphs">Elaborado em: 18/11/2024</text>
<text x="566.1" y="666" class="el" textLength="139.3" lengthAdjust="spacingAndGlyphs">Elaborado em: 16/12/2024</text>
<use href="#logo"/>
<use href="#logo" transform="translate(515.6,0)"/>
<use href="#legend"/>
<use href="#legend" transform="translate(516,0)"/>
</svg></body></html>
